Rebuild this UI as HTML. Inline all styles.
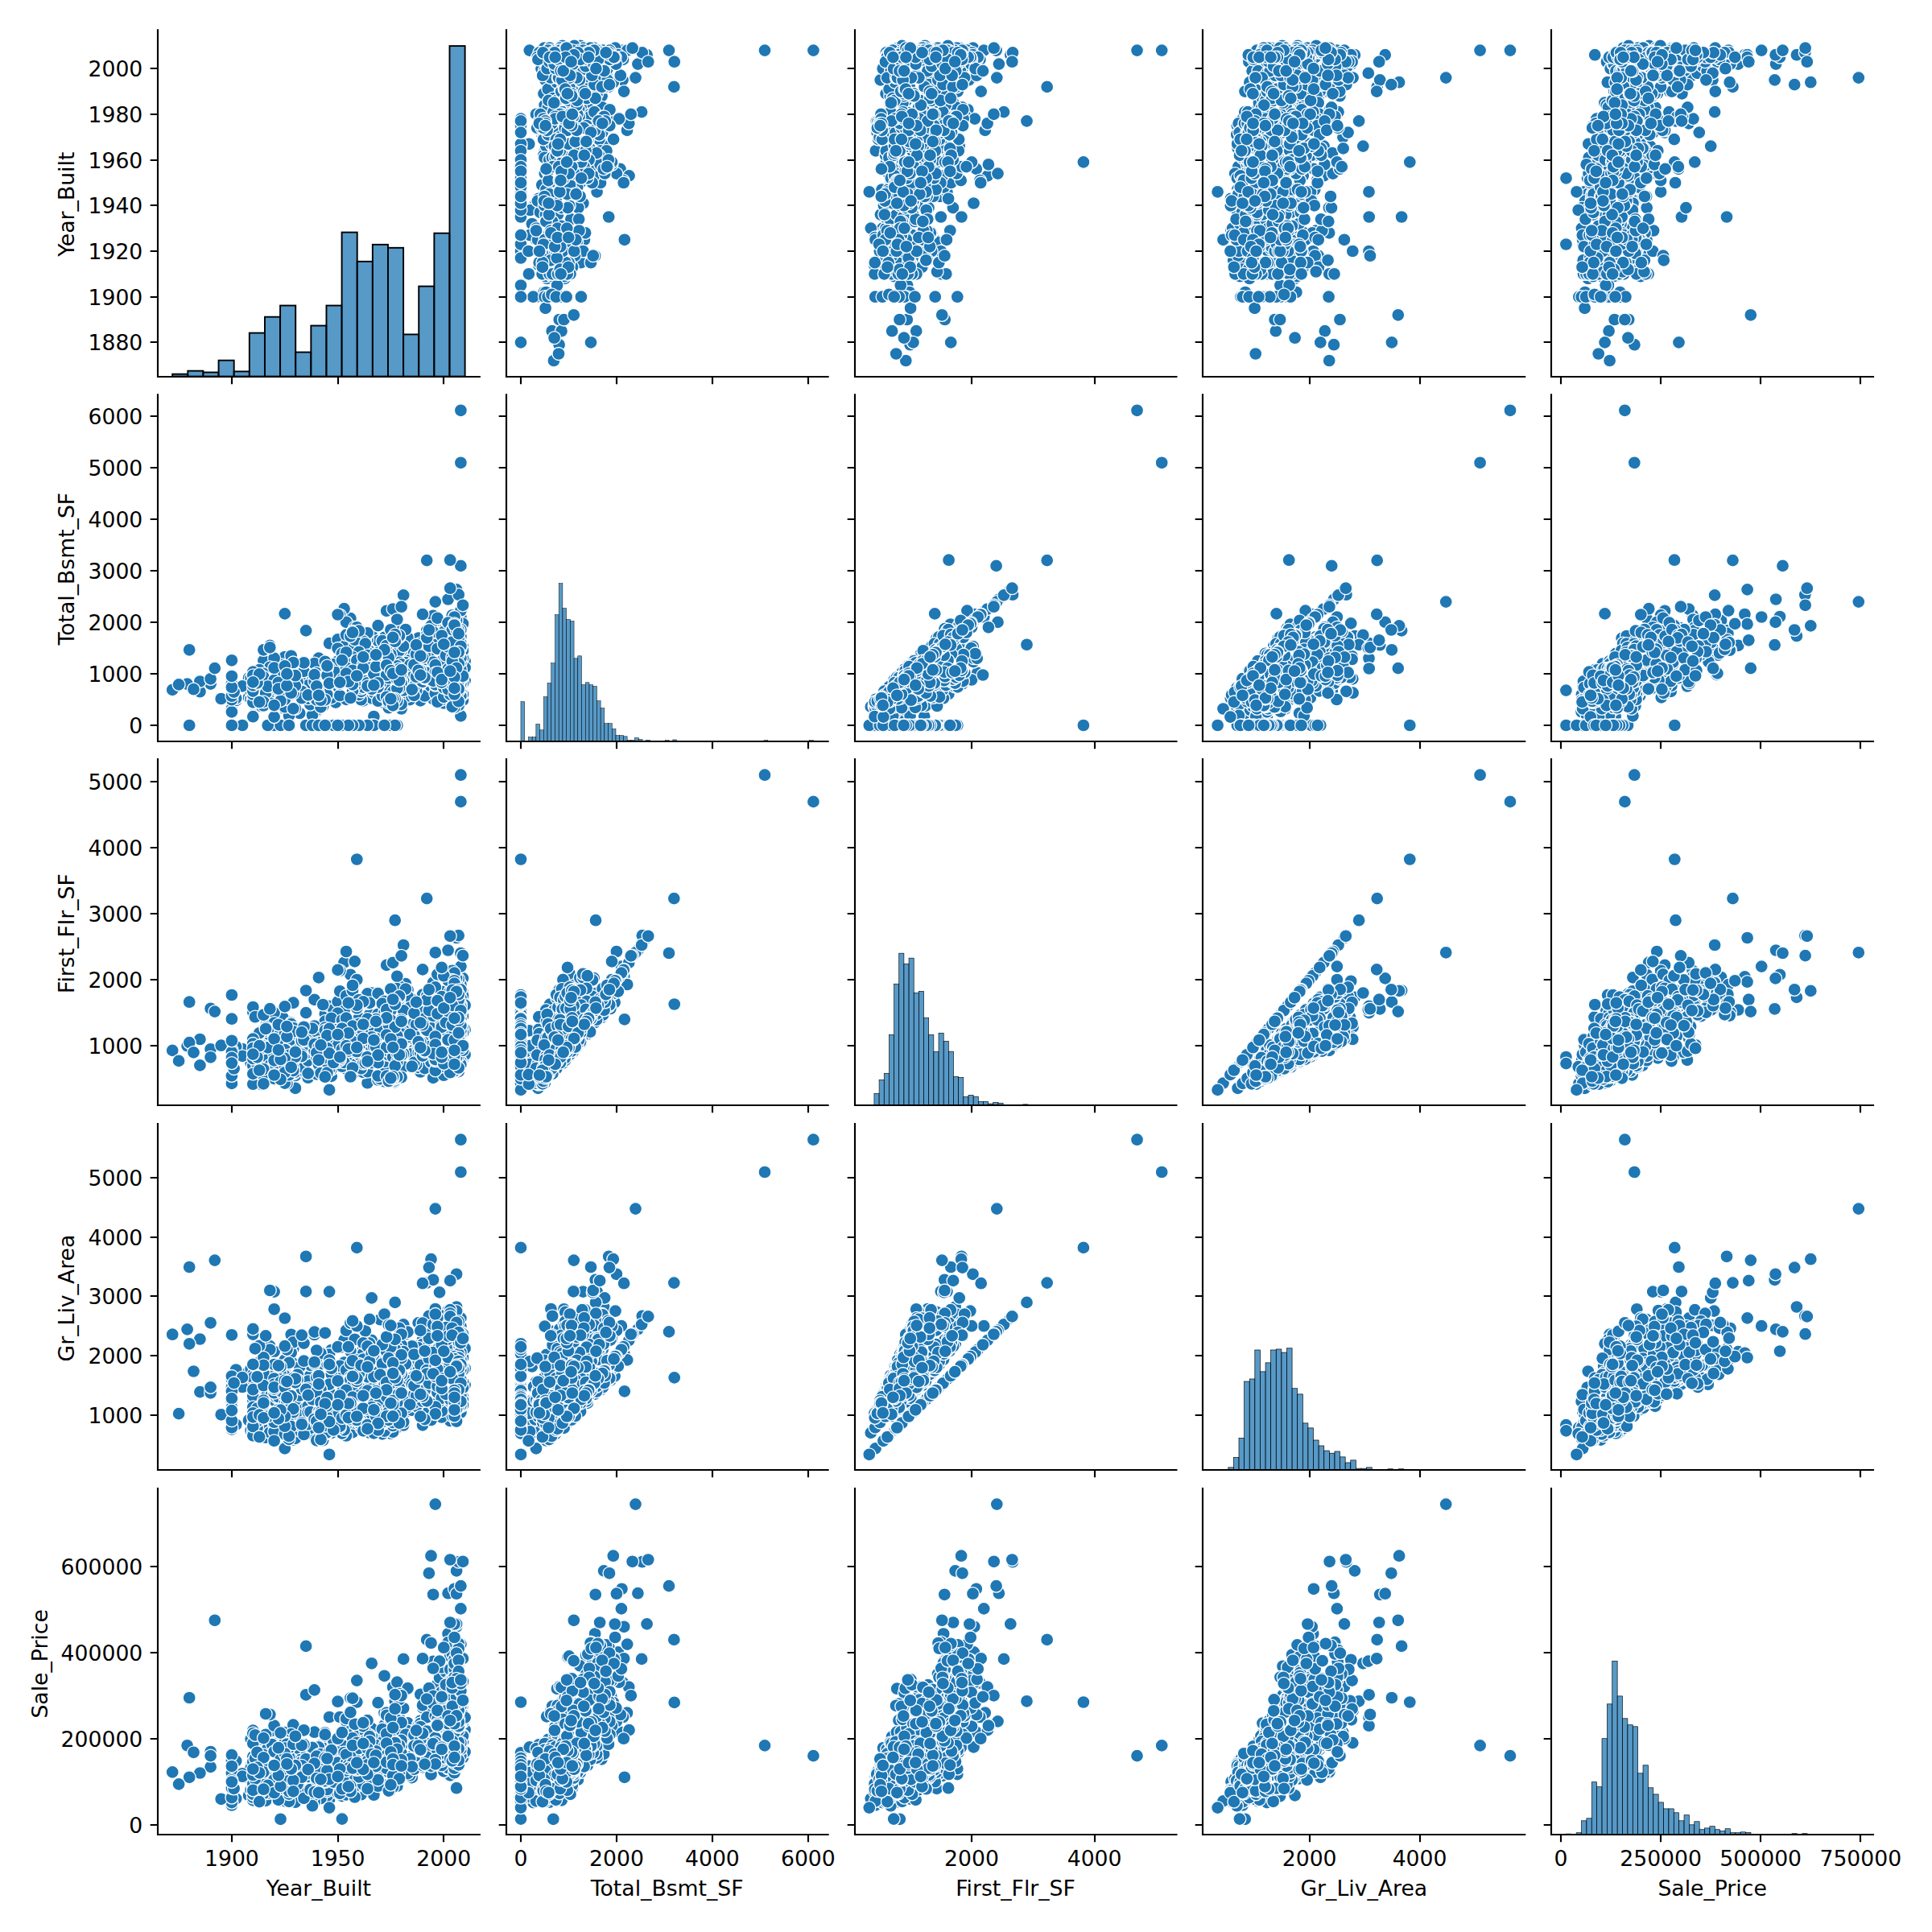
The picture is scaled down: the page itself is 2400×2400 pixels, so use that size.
<!DOCTYPE html><html><head><meta charset="utf-8"><title>pairplot</title><style>html,body{margin:0;padding:0;background:#fff}svg{display:block}text{font-family:"DejaVu Sans","Liberation Sans",sans-serif;font-size:26.667px;fill:#000}</style></head><body>
<svg width="2400" height="2400" viewBox="0 0 2400 2400">
<defs><marker id="m" markerUnits="userSpaceOnUse" markerWidth="20" markerHeight="20" refX="10" refY="10" viewBox="0 0 20 20" overflow="visible"><circle cx="10" cy="10" r="8.0" fill="#1f77b4" stroke="#fff" stroke-width="1.28"/></marker></defs>
<rect width="2400" height="2400" fill="#fff"/>
<g>
<g fill="#1f77b4" fill-opacity="0.75" stroke="#000" stroke-width="1.913"><rect x="214.17" y="464.69" width="19.13" height="2.90"/><rect x="233.30" y="460.71" width="19.13" height="6.88"/><rect x="252.43" y="462.52" width="19.13" height="5.07"/><rect x="271.56" y="447.66" width="19.13" height="19.93"/><rect x="290.69" y="461.43" width="19.13" height="6.16"/><rect x="309.82" y="413.60" width="19.13" height="53.99"/><rect x="328.95" y="393.68" width="19.13" height="73.91"/><rect x="348.08" y="379.55" width="19.13" height="88.04"/><rect x="367.21" y="437.52" width="19.13" height="30.07"/><rect x="386.34" y="404.55" width="19.13" height="63.04"/><rect x="405.46" y="379.55" width="19.13" height="88.04"/><rect x="424.59" y="288.60" width="19.13" height="178.99"/><rect x="443.72" y="324.84" width="19.13" height="142.75"/><rect x="462.85" y="303.82" width="19.13" height="163.77"/><rect x="481.98" y="307.81" width="19.13" height="159.78"/><rect x="501.11" y="415.42" width="19.13" height="52.17"/><rect x="520.24" y="355.63" width="19.13" height="111.96"/><rect x="539.37" y="289.69" width="19.13" height="177.90"/><rect x="558.50" y="57.08" width="19.13" height="410.51"/></g>
<path d="M196 36.26V469.07M194.93 468H596.87" stroke="#000" stroke-width="2.133" fill="none"/>
<path d="M288 468v9.33M420 468v9.33M551 468v9.33M196 425h-9.33M196 369h-9.33M196 312h-9.33M196 255h-9.33M196 199h-9.33M196 142h-9.33M196 85h-9.33" stroke="#000" stroke-width="2.133" fill="none"/>
<text x="177.33" y="435.46" text-anchor="end">1880</text>
<text x="177.33" y="378.77" text-anchor="end">1900</text>
<text x="177.33" y="322.08" text-anchor="end">1920</text>
<text x="177.33" y="265.39" text-anchor="end">1940</text>
<text x="177.33" y="208.71" text-anchor="end">1960</text>
<text x="177.33" y="152.02" text-anchor="end">1980</text>
<text x="177.33" y="95.33" text-anchor="end">2000</text>
<text transform="translate(91.90 253.76) rotate(-90)" text-anchor="middle">Year_Built</text>
</g>
<g>
<path d="M666.3 368.7 720.9 56.9 739.1 317.7 725.9 297.8 660.9 278 792.4 79.6 676.1 215.6 789.5 96.6 679.3 346 737.8 59.7 775.8 297.8 666 141.9 741.6 238.3 675.8 363 669 246.8 677.6 343.2 716.8 300.6 676 59.7 770.5 209.9 751.1 181.6 748.3 164.6 721.7 326.2 837.3 107.9 663 255.3 673.5 167.4 694.6 428.2 781.5 218.4 657.2 178.8 685.7 411.2 720.9 227 647 158.9 687.9 448 779 161.8 746 227 664.6 255.3 771.9 62.6 774 224.1 686.3 343.2 682.8 59.7 764.3 59.7 756.2 269.5 694.7 397 724.3 312 673.3 229.8 803.6 68.2 697.5 411.2 797.8 65.4 713.9 317.7 744.4 173.1 647 246.8 662.4 368.7 734 425.4 676.8 187.3 730.5 133.4 797.1 139.1 657.8 62.6 724.7 59.7 727.1 289.3 711 331.8 677.4 99.4 774 73.9 647 312 773.5 99.4 647 425.4 698.6 56.9 695.2 368.7 765.9 215.6 695.5 59.7 749.3 62.6 675.5 116.4 746.2 187.3 676.6 130.6 760.1 144.8 760 204.3 675.3 192.9 676.8 215.6 779.2 62.6 647 181.6 647 269.5 647 147.6 753.5 90.9 692.7 62.6 721.9 368.7 647 320.5 761.8 102.2 694 439.5 674.3 164.6 732.6 184.4 678.3 181.6 686.6 181.6 647 303.5 676.5 195.8 747.6 119.2 658.5 261 671 263.8 666.2 283.6 733.2 59.7 672.5 85.2 701.5 346 667.9 249.6 770.8 93.7 706.6 326.2 739.9 96.6 701.1 343.2 781.2 153.3 677.9 266.6 769.1 147.6 692.1 354.5 741.6 116.4 753.5 187.3 736.4 62.6 678.2 363 721.6 133.4 647 261 754.8 85.2 682.2 289.3 737.8 218.4 748.1 133.4 735.7 227 669.1 329 684.2 62.6 719.3 136.3 724.3 252.5 684.8 178.8 734 326.2 666 297.8 756.2 107.9 831 62.6 757.5 136.3 757.3 156.1 760 201.4 785.6 59.7 672.5 340.3 736.8 317.7 744.1 192.9 1010.4 62.6 700.5 397 713.4 56.9 730.7 173.1 718.4 258.1 676.5 368.7 658.1 292.1 647 178.8 751.3 215.6 681 133.4 680.8 110.7 717.2 232.6 755.2 207.1 805.2 76.7 676.3 255.3 713.4 238.3 699.2 139.1 687.1 122.1 754.6 99.4 730.6 187.3 738.9 204.3 745.5 204.3 669.8 150.4 681.4 124.9 673.6 340.3 684 368.7 762.1 173.1 691.7 124.9 755.9 198.6 741.1 190.1 767.9 68.2 669.9 65.4 682.2 198.6 678.7 317.7 775.1 113.6 729.8 221.3 710.9 130.6 757.3 62.6 693 266.6 686 195.8 691.8 102.2 686.4 312 682.5 340.3 774.7 227 667.5 71.1 647 195.8 709.3 272.3 720.6 244 647 156.1 733.1 141.9 647 252.5 771.9 71.1 696.9 280.8 756.7 65.4 733.1 144.8 749.7 209.9 738.3 139.1 748.9 144.8 675.1 173.1 687.3 139.1 698.1 141.9 647 150.4 719.1 272.3 697.6 258.1 688.6 419.7 647 190.1 712.8 391.3 719.6 144.8 691.7 227 729 122.1 750.4 144.8 677.6 382.8 783.8 141.9 647 354.5 693.9 238.3 738.3 156.1 719.4 286.5 684 96.6 765.3 79.6 693.2 96.6 723 107.9 680.8 62.6 656.9 340.3 671.3 141.9 676.5 88.1 754.1 207.1 689.2 312 689.6 195.8 690.8 249.6 717.2 141.9 674.2 93.7 707.2 255.3 950 62.6 725.2 105.1 647 204.3 741.8 62.6 751.4 107.9 695.6 62.6 686.5 65.4 678.5 235.5 669.7 326.2 647 368.7 679.6 85.2 708.6 303.5 697.2 113.6 680.3 212.8 668.4 73.9 680.6 368.7 705.3 258.1 715.4 147.6 668.1 297.8 682.3 241.1 706.1 124.9 695.7 141.9 702.8 326.2 731.6 198.6 647 218.4 699 312 728.8 110.7 681 167.4 728.7 156.1 686.2 275.1 693.3 164.6 725.6 207.1 703 122.1 702.8 59.7 699.8 105.1 686.3 340.3 690.9 192.9 684.2 323.3 692.4 204.3 647 238.3 837.7 76.7 691.1 312 721.2 88.1 719.8 99.4 738.3 105.1 686.7 207.1 720 62.6 708.5 340.3 681.3 224.1 667.2 158.9 701.1 110.7 691.8 320.5 672.8 158.9 708 229.8 731.2 215.6 757.5 73.9 750.6 88.1 678.3 275.1 682.6 76.7 696 190.1 735.4 93.7 647 164.6 713.2 241.1 730.3 161.8 695 224.1 764.1 71.1 704.5 241.1 713.2 312 716.6 130.6 712.1 144.8 647 292.1 693 340.3 715.6 241.1 695.1 170.3 725 158.9 707.5 107.9 689.8 144.8 714.2 158.9 744.4 167.4 701.6 158.9 722.1 201.4 647 232.6 724.4 62.6 666.1 286.5 704.7 340.3 751.7 150.4 685.6 153.3 695.8 334.7 688.2 127.7 716.7 192.9 684 286.5 747.8 107.9 697.8 190.1 727.5 82.4 757 68.2 692.6 283.6 700.1 221.3 681.9 266.6 674.8 147.6 683.6 252.5 706.1 331.8 656.6 312 690.9 173.1 698.1 65.4 677.4 303.5 696.7 340.3 689.3 147.6 710.1 116.4 688.9 65.4 728.9 175.9 739 161.8 698.5 201.4 734.1 164.6 715.3 297.8 762.6 71.1 700 147.6 713.4 215.6 743.7 150.4 716.8 124.9 647 244 692.1 255.3 694 96.6 712.2 93.7 676.4 244 726.2 175.9 677 297.8 695.3 238.3 713.2 184.4 675.2 303.5 711.8 79.6 708.1 141.9 684.4 289.3 725.4 113.6 685.4 365.8 690.3 85.2 725.2 73.9 694.1 207.1 748 65.4 688.5 79.6 690.9 368.7 716.5 96.6 729 65.4 707.5 96.6 679.6 161.8 695.9 187.3 674.6 65.4 711 62.6 706 178.8 698.3 99.4 727.6 187.3 677.4 150.4 647 187.3 710.2 207.1 703.6 368.7 704.3 283.6 696.3 306.3 710.2 119.2 748.3 153.3 737.5 79.6 693.7 73.9 714.7 175.9 674 326.2 706.7 215.6 689.1 306.3 692.7 295 674.8 158.9 722.1 221.3 676 249.6 647 198.6 702.2 110.7 682.8 71.1 743 73.9 738.2 62.6 731.5 65.4 705 161.8 716.4 161.8 706.2 295 752.7 65.4 697.4 212.8 673.9 331.8 710 156.1 704.9 116.4 718 65.4 695.9 173.1 696.6 88.1 721.1 73.9 688.8 181.6 692.4 187.3 731.1 71.1 677.5 153.3 669.9 153.3 703.7 59.7 698.7 144.8 677.6 156.1 647 207.1 678.5 209.9 647 221.3 708 93.7 713 68.2 702.6 71.1 739.6 122.1 706.7 153.3 727 116.4 728.3 175.9 670.1 312 647 212.8 713.1 192.9 725.8 192.9 740.4 85.2 696.5 224.1 647 227 704.1 201.4 699.7 88.1 709.5 76.7 689.7 71.1 757 105.1 693.2 178.8 681.5 252.5 710.9 141.9" fill="none" stroke="none" marker-start="url(#m)" marker-mid="url(#m)" marker-end="url(#m)"/>
<path d="M629 36.26V469.07M627.93 468H1029.67" stroke="#000" stroke-width="2.133" fill="none"/>
<path d="M647 468v9.33M766 468v9.33M885 468v9.33M1004 468v9.33M629 425h-9.33M629 369h-9.33M629 312h-9.33M629 255h-9.33M629 199h-9.33M629 142h-9.33M629 85h-9.33" stroke="#000" stroke-width="2.133" fill="none"/>
</g>
<g>
<path d="M1093 368.7 1149.1 56.9 1088.5 164.6 1240.9 79.6 1238.3 96.6 1208.8 59.7 1167.6 244 1161.2 297.8 1202.3 136.3 1163.7 300.6 1176.4 238.3 1118.2 363 1183.9 258.1 1197.8 82.4 1096.4 283.6 1345.9 201.4 1212.8 209.9 1191.7 181.6 1150.1 326.2 1172.6 232.6 1300.7 107.9 1169.5 340.3 1130.6 428.2 1180.3 286.5 1226.9 218.4 1108.1 411.2 1126.8 397 1125.3 448 1223.7 161.8 1181.5 227 1222.2 62.6 1154.4 323.3 1175.3 340.3 1217.3 224.1 1110.7 343.2 1081.8 283.6 1087.2 368.7 1115.5 59.7 1191.9 59.7 1194.4 269.5 1117.5 397 1195.1 133.4 1149.3 59.7 1168.8 312 1255.3 68.2 1138.2 411.2 1258 65.4 1178.1 246.8 1096.1 368.7 1181.2 425.4 1100.9 65.4 1157.2 312 1275.5 150.4 1087.8 187.3 1247 139.1 1204.9 99.4 1098.6 286.5 1188.7 59.7 1157.1 289.3 1145.3 331.8 1095.6 235.5 1101.1 201.4 1093.7 99.4 1217.4 73.9 1203.6 99.4 1134.4 425.4 1120.6 56.9 1239.5 215.6 1145.7 59.7 1185.9 62.6 1102.3 68.2 1155.8 289.3 1100.6 116.4 1100.1 192.9 1100.5 283.6 1126.5 139.1 1125.8 124.9 1105.7 130.6 1199.6 144.8 1227.9 204.3 1133.5 320.5 1201.4 62.6 1168.8 269.5 1161.7 368.7 1099 269.5 1092.8 312 1113.1 62.6 1189.3 368.7 1101.6 71.1 1207.5 65.4 1113.2 439.5 1089.6 164.6 1121.5 127.7 1172 181.6 1132.6 119.2 1149.5 312 1193.7 224.1 1106.6 224.1 1164.8 130.6 1147.1 255.3 1152 323.3 1122.8 119.2 1164.9 59.7 1106.7 130.6 1103.9 215.6 1096.7 85.2 1189.7 113.6 1161.3 62.6 1213.1 93.7 1130.7 326.2 1091.3 173.1 1226.6 153.3 1164.1 337.5 1093.9 266.6 1092.5 170.3 1210.9 147.6 1127.1 354.5 1190.8 187.3 1168.7 62.6 1198.7 65.4 1184.2 127.7 1129.8 363 1138.5 340.3 1193.1 85.2 1171 218.4 1187.9 133.4 1168.4 227 1142.6 62.6 1086.1 329 1159.1 244 1109.2 62.6 1147.3 136.3 1087.1 295 1209.5 252.5 1166.3 326.2 1151.2 286.5 1208.5 68.2 1087.5 297.8 1103.5 235.5 1100.8 187.3 1196.7 147.6 1106.9 221.3 1237.6 62.6 1196.2 136.3 1196.1 156.1 1106.6 88.1 1207 201.4 1234.7 59.7 1105.4 272.3 1134.2 266.6 1173.4 317.7 1178.6 192.9 1412.5 62.6 1112 209.9 1173.7 397 1133.2 292.1 1177.5 56.9 1118.9 65.4 1118.1 326.2 1153.5 258.1 1097.9 255.3 1126 368.7 1079.8 238.3 1111.1 181.6 1125.2 295 1188.4 215.6 1105.8 119.2 1118 215.6 1141 133.4 1104.6 110.7 1166.9 184.4 1194.5 207.1 1257.3 76.7 1103.2 252.5 1121.6 139.1 1108.9 122.1 1150.7 261 1179.6 187.3 1167.2 173.1 1088.9 150.4 1213.7 73.9 1162.6 235.5 1191.1 173.1 1111.4 124.9 1103.3 238.3 1134.6 252.5 1150.4 110.7 1108.1 317.7 1218.7 113.6 1160.2 221.3 1174.8 130.6 1178 62.6 1113.5 266.6 1175.9 297.8 1104.4 195.8 1111.8 102.2 1107.7 340.3 1125.9 280.8 1116.6 68.2 1218.2 227 1120.5 198.6 1180.1 184.4 1193.6 76.7 1151.5 244 1109.1 252.5 1152.3 272.3 1148.5 244 1136.2 275.1 1146.9 141.9 1214.8 71.1 1122.1 269.5 1165.1 144.8 1179.8 209.9 1171.3 139.1 1117.9 255.3 1184.9 144.8 1090.6 150.4 1095.9 173.1 1126.1 297.8 1106.3 139.1 1206.6 73.9 1119.9 141.9 1130.2 326.2 1092.7 150.4 1137.5 272.3 1125.1 258.1 1123 419.7 1096.5 326.2 1183.8 198.6 1187.6 82.4 1170.2 391.3 1111.9 227 1187.1 144.8 1149.2 229.8 1131.1 382.8 1169.5 113.6 1234.5 141.9 1109.6 334.7 1118.8 354.5 1171.4 156.1 1147.2 286.5 1102.1 96.6 1206.2 79.6 1142.9 124.9 1137.6 306.3 1113.4 96.6 1108.3 241.1 1086.5 340.3 1094.4 141.9 1122.5 116.4 1200.5 207.1 1151.1 76.7 1154.7 93.7 1109.2 312 1134.4 249.6 1144.5 141.9 1113.4 93.7 1443.2 62.6 1108 164.6 1119.8 292.1 1154.3 105.1 1123.5 204.3 1176.1 62.6 1188.2 107.9 1188.1 144.8 1144.8 62.6 1156 62.6 1164 201.4 1211.5 85.2 1116.9 244 1103.7 326.2 1123.4 368.7 1120.8 275.1 1198.2 96.6 1147.1 178.8 1119.1 113.6 1124.6 212.8 1116.9 368.7 1132.5 258.1 1142.2 147.6 1099.2 249.6 1099.5 241.1 1157.2 124.9 1160.7 141.9 1128.5 326.2 1163 198.6 1111.3 218.4 1121.3 312 1162.3 110.7 1182 164.6 1160.4 156.1 1146.4 275.1 1089.2 158.9 1155.3 207.1 1155.2 122.1 1125.5 59.7 1129.8 105.1 1098.4 340.3 1110.3 192.9 1137.8 96.6 1121 303.5 1150.3 323.3 1168.9 164.6 1112.4 164.6 1150.4 238.3 1148.8 170.3 1113.7 312 1152.3 88.1 1165.3 99.4 1171.5 105.1 1105.2 207.1 1181.6 192.9 1148.1 62.6 1140.2 65.4 1133.1 340.3 1114.1 224.1 1120 158.9 1174 201.4 1123.8 110.7 1128.6 320.5 1132.9 229.8 1162.6 215.6 1195.9 73.9 1187.3 88.1 1118.6 275.1 1100 76.7 1111.1 190.1 1167.7 93.7 1138.9 241.1 1113 71.1 1115.9 224.1 1205.7 71.1 1128 241.1 1138.7 312 1144 130.6 1133.9 144.8 1097.1 292.1 1115.9 340.3 1142.5 241.1 1154.8 158.9 1107.2 297.8 1148.6 107.9 1179.4 167.4 1139.2 175.9 1124.3 158.9 1177.6 201.4 1152.4 150.4 1111.3 232.6 1153.9 62.6 1104.9 286.5 1128 340.3 1181.1 150.4 1117.8 153.3 1117.5 334.7 1106.9 127.7 1144 192.9 1101.9 286.5 1183.7 107.9 1133.2 187.3 1157.4 82.4 1118 283.6 1126.7 221.3 1098.8 266.6 1094.7 147.6 1116.1 297.8 1129.1 252.5 1126.9 181.6 1130.6 331.8 1097.4 312 1111.2 173.1 1115 303.5 1120.9 340.3 1145.6 198.6 1147.7 71.1 1111.9 147.6 1134.8 116.4 1137.7 65.4 1180.2 212.8 1172.4 161.8 1124.1 201.4 1162.1 164.6 1146.9 297.8 1202.7 71.1 1221 88.1 1121.9 147.6 1130.8 167.4 1178.6 150.4 1168.3 124.9 1122.7 255.3 1114.9 96.6 1138 93.7 1094.8 244 1161.4 175.9 1099.8 297.8 1122 238.3 1131.9 175.9 1136 184.4 1092 303.5 1137.6 79.6 1132.8 141.9 1105.9 289.3 1154.9 113.6 1104.3 365.8 1110.1 85.2 1154.7 73.9 1139.9 207.1 1184 65.4 1122.3 79.6 1110.7 368.7 1166.9 73.9 1141.4 96.6 1159.9 65.4 1132.1 96.6 1095.7 161.8 1117.7 187.3 1105.3 65.4 1195.4 62.6 1129.9 178.8 1121.7 99.4 1157.9 187.3 1162.9 161.8 1107.5 150.4 1161.8 187.3 1135.5 207.1 1136.5 368.7 1123.4 283.6 1155.1 306.3 1135.4 119.2 1184.2 153.3 1170.7 79.6 1117.5 73.9 1129.3 175.9 1148 209.9 1086.8 326.2 1130.6 215.6 1125.9 306.3 1141.3 295 1089.9 158.9 1131.6 249.6 1155.7 198.6 1125.1 110.7 1119.9 71.1 1177.4 73.9 1171.4 62.6 1163.1 65.4 1129 161.8 1137.3 71.1 1143.3 161.8 1153 295 1189.9 65.4 1127.1 212.8 1102.4 331.8 1138.7 156.1 1128.7 116.4 1145.5 65.4 1194.7 68.2 1119.9 173.1 1117.4 88.1 1195 73.9 1140.7 181.6 1112.9 187.3 1162.5 71.1 1093.3 153.3 1127.8 62.6 1095.1 153.3 1130.8 59.7 1120.3 144.8 1093.4 156.1 1153.5 207.1 1095 209.9 1150.6 221.3 1182.7 93.7 1193.3 68.2 1125.4 71.1 1181 122.1 1128.9 153.3 1157.3 116.4 1158.8 175.9 1096.8 312 1145.4 212.8 1139.1 192.9 1155.4 192.9 1174.2 85.2 1117.8 224.1 1143.7 227 1128.8 201.4 1123.1 88.1 1186.2 76.7 1109.4 71.1 1195.5 105.1 1137.3 178.8 1114.3 252.5 1158.8 141.9" fill="none" stroke="none" marker-start="url(#m)" marker-mid="url(#m)" marker-end="url(#m)"/>
<path d="M1062 36.26V469.07M1060.93 468H1462.47" stroke="#000" stroke-width="2.133" fill="none"/>
<path d="M1207 468v9.33M1360 468v9.33M1062 425h-9.33M1062 369h-9.33M1062 312h-9.33M1062 255h-9.33M1062 199h-9.33M1062 142h-9.33M1062 85h-9.33" stroke="#000" stroke-width="2.133" fill="none"/>
</g>
<g>
<path d="M1551.4 76.7 1612.1 56.9 1603.8 263.8 1597.2 266.6 1637.7 317.7 1796.2 96.6 1608.6 346 1629 244 1668.4 170.3 1700.5 238.3 1547 363 1615.7 263.8 1635.8 192.9 1611.1 343.2 1650.9 258.1 1680.6 96.6 1682.9 68.2 1579.1 59.7 1751.3 201.4 1674.6 164.6 1631.9 209.9 1693.3 181.6 1710.7 107.9 1563.1 133.4 1651.2 340.3 1621.7 297.8 1631.3 312 1657 428.2 1575.3 59.7 1634.8 286.5 1644.5 218.4 1664.5 116.4 1536.8 156.1 1543.7 147.6 1672.4 105.1 1584.8 411.2 1714.2 99.4 1583.6 397 1662.1 158.9 1651.2 448 1529 246.8 1664.4 119.2 1561.2 62.6 1586.3 326.2 1541.6 368.7 1563.9 127.7 1660.9 62.6 1636 224.1 1540.3 343.2 1543.7 368.7 1569.7 59.7 1613.1 59.7 1741.1 269.5 1633.2 235.5 1651.6 136.3 1537.4 235.5 1590.1 397 1616 133.4 1700.5 312 1537.7 184.4 1645.8 411.2 1628.1 238.3 1616.9 249.6 1633.6 317.7 1600.8 246.8 1573.8 368.7 1678.8 79.6 1728.9 425.4 1621 175.9 1611.1 122.1 1688.1 150.4 1654.5 110.7 1568.4 62.6 1662.5 139.1 1529.5 286.5 1610.2 59.7 1651.1 289.3 1619.1 331.8 1680.3 312 1640.3 425.4 1592.8 56.9 1599.5 368.7 1655.8 215.6 1669.9 297.8 1532.2 323.3 1624.4 59.7 1645.4 113.6 1607.8 62.6 1603.9 289.3 1637.9 119.2 1531.1 283.6 1619.8 124.9 1619.8 289.3 1540.1 278 1673.8 82.4 1617.4 241.1 1645.5 204.3 1639.7 113.6 1700.7 269.5 1638 331.8 1629.4 192.9 1610.1 119.2 1670 62.6 1650.6 368.7 1738.1 102.2 1623.7 255.3 1546.3 139.1 1559.7 439.5 1613.7 278 1618.7 218.4 1604.8 340.3 1596.4 59.7 1644.5 181.6 1620.1 119.2 1635.6 119.2 1575.1 312 1578.7 309.1 1538.2 207.1 1536.3 167.4 1543 195.8 1614.8 224.1 1664.4 209.9 1567 278 1592.6 278 1575.2 283.6 1537.2 178.8 1534.2 215.6 1542.7 326.2 1546.3 278 1620.4 164.6 1552.1 346 1580.6 278 1610.7 62.6 1546.5 113.6 1588.2 337.5 1568.5 266.6 1555.6 88.1 1550.8 68.2 1537 241.1 1678.2 68.2 1699.8 90.9 1579 306.3 1590.4 354.5 1559 280.8 1617.2 312 1575.4 340.3 1583.7 312 1621.4 201.4 1612 297.8 1637.6 127.7 1610.4 363 1536.5 261 1657.5 340.3 1538.6 153.3 1598.5 340.3 1679.6 76.7 1594.4 218.4 1603 368.7 1654 133.4 1569 62.6 1664.2 113.6 1549.1 204.3 1630.3 289.3 1624.4 326.2 1601.2 340.3 1642.3 286.5 1543.2 334.7 1720.7 68.2 1519.5 297.8 1557.1 73.9 1639 141.9 1536.9 221.3 1675.4 76.7 1617 136.3 1655.1 190.1 1543 263.8 1603.6 297.8 1602.7 320.5 1622.5 192.9 1660.9 201.4 1617.4 258.1 1542.4 161.8 1651.6 59.7 1554.3 326.2 1535.6 272.3 1561.4 266.6 1580.2 340.3 1702 317.7 1876 62.6 1550.9 283.6 1664.5 397 1635 56.9 1570 326.2 1654 258.1 1713.2 76.7 1528.8 255.3 1605.2 235.5 1590.4 368.7 1512.6 238.3 1547.5 266.6 1561.6 263.8 1633.6 295 1610 215.6 1668.6 184.4 1546.9 215.6 1567.5 133.4 1547.9 255.3 1629.3 161.8 1590.8 184.4 1562.9 88.1 1606.3 303.5 1666.8 207.1 1671.8 76.7 1601.7 255.3 1550.1 139.1 1607.3 309.1 1568.3 122.1 1642.1 105.1 1539.6 164.6 1550.9 334.7 1576.2 261 1602.2 187.3 1534.4 340.3 1618.4 292.1 1581.9 235.5 1572.1 124.9 1567.3 340.3 1632.7 73.9 1612 235.5 1612.4 173.1 1603 124.9 1600.2 312 1603.5 198.6 1593.6 238.3 1548.8 164.6 1561.8 252.5 1573.6 76.7 1617 198.6 1629.3 249.6 1538 317.7 1622 62.6 1710.2 113.6 1590.4 337.5 1597.8 130.6 1574.1 90.9 1634.1 93.7 1600.7 62.6 1589 266.6 1637.7 297.8 1587.9 195.8 1593.5 312 1615.7 116.4 1631.5 161.8 1587.5 340.3 1604.9 280.8 1636.7 227 1549.1 198.6 1640.9 184.4 1603.5 252.5 1641 272.3 1587.8 249.6 1652.9 244 1591.1 141.9 1636.1 147.6 1588.3 275.1 1605.3 141.9 1558.2 252.5 1633.7 71.1 1598.6 280.8 1545.9 153.3 1587.7 269.5 1589.1 144.8 1602.3 209.9 1631.3 139.1 1584.7 255.3 1606.9 144.8 1616.5 312 1580.2 139.1 1563.6 105.1 1623.8 141.9 1621.4 238.3 1592.1 326.2 1620.5 272.3 1546.6 312 1666 65.4 1571.5 297.8 1553.3 258.1 1608.6 419.7 1572.7 295 1575 326.2 1617.1 167.4 1639.5 65.4 1605.9 198.6 1736.8 391.3 1550 164.6 1597.6 227 1658.4 144.8 1552.4 102.2 1558.6 382.8 1651.4 141.9 1617.4 209.9 1572.8 249.6 1565.8 334.7 1601.5 354.5 1594.7 156.1 1600.6 286.5 1570.3 99.4 1628.1 124.9 1564.5 306.3 1577.1 107.9 1538.2 241.1 1551 164.6 1626.8 73.9 1662.8 99.4 1620.8 207.1 1559.2 96.6 1670.2 93.7 1538.9 312 1615.6 195.8 1561.6 249.6 1570.6 141.9 1584.2 93.7 1632.8 255.3 1599.1 209.9 1838.6 62.6 1623.2 105.1 1530.1 292.1 1634.5 150.4 1551.8 204.3 1598.9 62.6 1609.8 107.9 1634.8 337.5 1609.7 144.8 1630.7 62.6 1659 82.4 1580.9 62.6 1581.2 153.3 1545.8 244 1568.3 65.4 1572.1 326.2 1551.7 368.7 1549.3 275.1 1674.6 96.6 1573 178.8 1596.2 303.5 1574 113.6 1552.8 212.8 1566.9 368.7 1619.3 258.1 1530 249.6 1585.4 368.7 1578.4 241.1 1582.1 124.9 1627.6 141.9 1565 68.2 1615.7 326.2 1587.2 198.6 1540.9 218.4 1628.6 65.4 1549.9 312 1536.1 297.8 1614.7 93.7 1586.6 110.7 1660.3 93.7 1604.3 164.6 1636.4 156.1 1650.3 275.1 1602.3 178.8 1580.2 122.1 1589.6 59.7 1646.6 105.1 1540 192.9 1614.8 96.6 1585.9 303.5 1649.6 323.3 1592.5 164.6 1602.9 164.6 1549.5 153.3 1544.8 289.3 1616.5 238.3 1574.5 170.3 1571.6 158.9 1588.1 312 1577.6 88.1 1630.3 99.4 1594.9 105.1 1556.9 71.1 1592 207.1 1641.2 192.9 1573.9 62.6 1559.3 184.4 1560.4 340.3 1533.8 292.1 1567.7 96.6 1543.4 224.1 1623.7 158.9 1597.1 201.4 1632 110.7 1556.4 320.5 1560.2 229.8 1613.2 79.6 1586.9 215.6 1609 88.1 1547.4 275.1 1576.1 76.7 1559.3 181.6 1581.8 190.1 1591.4 93.7 1565.6 241.1 1545 224.1 1625.6 71.1 1555.8 241.1 1590.2 312 1570.2 130.6 1564.6 292.1 1545 340.3 1568.8 241.1 1604.7 170.3 1590.3 297.8 1574.3 107.9 1566.8 158.9 1639.4 167.4 1565.9 175.9 1552.6 158.9 1600.3 201.4 1645.5 150.4 1540.8 232.6 1651.2 62.6 1561.5 286.5 1555.8 340.3 1603.5 150.4 1618.1 153.3 1602.3 334.7 1593.8 127.7 1617.9 184.4 1565.2 286.5 1605.8 107.9 1637.5 187.3 1564.7 190.1 1582.2 82.4 1664.9 68.2 1595.7 283.6 1554.7 221.3 1581 266.6 1572.4 147.6 1545.2 297.8 1593.9 252.5 1629.2 181.6 1558.2 331.8 1528.4 312 1540.7 173.1 1624.3 65.4 1613.9 303.5 1616.6 340.3 1573.5 71.1 1598.2 147.6 1655.6 116.4 1636.8 212.8 1561 173.1 1595.7 161.8 1552.3 201.4 1586.4 164.6 1598.1 297.8 1622.8 71.1 1639.3 88.1 1581.1 147.6 1558.3 167.4 1601.2 150.4 1592 124.9 1551 255.3 1602.6 96.6 1611.3 93.7 1571.1 244 1585.8 175.9 1556.5 297.8 1550.5 238.3 1642.7 65.4 1559.3 175.9 1619.9 184.4 1563.8 303.5 1649.4 79.6 1560.1 141.9 1580 289.3 1580 113.6 1595.1 365.8 1600.3 85.2 1658.5 73.9 1566.5 207.1 1606.1 65.4 1624.7 79.6 1577.4 368.7 1621.3 96.6 1620.2 65.4 1559.5 96.6 1579.1 161.8 1546.6 187.3 1616.3 62.6 1632.3 178.8 1605.8 99.4 1613.7 187.3 1587.2 161.8 1559 150.4 1586.2 187.3 1602.6 207.1 1563.5 368.7 1600 283.6 1615.2 306.3 1600.9 119.2 1606.3 153.3 1595.6 73.9 1557 175.9 1554.8 326.2 1558.1 215.6 1553.9 306.3 1596.8 295 1559 249.6 1580.6 198.6 1553.2 110.7 1561.7 158.9 1600.2 73.9 1594.8 62.6 1587.3 65.4 1556.8 161.8 1564.2 71.1 1648.2 161.8 1578.2 295 1653.5 65.4 1555 212.8 1532.9 331.8 1661.4 156.1 1556.4 116.4 1612.8 65.4 1615.6 68.2 1548.6 173.1 1588.7 88.1 1650.2 73.9 1567.2 181.6 1542.3 187.3 1586.8 71.1 1574.7 153.3 1641.5 62.6 1570 153.3 1646.5 59.7 1548.9 144.8 1571.9 156.1 1578.7 207.1 1572 209.9 1576.1 221.3 1649.6 93.7 1614.4 68.2 1583.5 71.1 1603.4 122.1 1556.6 153.3 1582.1 116.4 1583.4 175.9 1560.5 312 1571.4 212.8 1565.8 192.9 1580.4 192.9 1631.7 85.2 1580.5 224.1 1569.9 227 1556.5 201.4 1597.7 88.1 1608.1 76.7 1578.6 71.1 1728.3 105.1 1564.2 178.8 1543.5 252.5 1583.5 141.9" fill="none" stroke="none" marker-start="url(#m)" marker-mid="url(#m)" marker-end="url(#m)"/>
<path d="M1494 36.26V469.07M1492.93 468H1895.27" stroke="#000" stroke-width="2.133" fill="none"/>
<path d="M1627 468v9.33M1764 468v9.33M1494 425h-9.33M1494 369h-9.33M1494 312h-9.33M1494 255h-9.33M1494 199h-9.33M1494 142h-9.33M1494 85h-9.33" stroke="#000" stroke-width="2.133" fill="none"/>
</g>
<g>
<path d="M1996 76.7 2048.6 56.9 2028.6 263.8 2085.1 209.9 2043.5 317.7 2045.4 297.8 1968.3 278 2159.3 79.6 2206.1 79.6 1968 238.3 2308.8 96.6 2058.8 116.4 1972.8 346 2104.3 59.7 2063.1 238.3 1968.9 363 1966.4 303.5 2068 164.6 2149.5 79.6 2007.1 343.2 2231.9 68.2 2121.8 65.4 2080.3 201.4 2110.8 164.6 2125.2 181.6 2053.8 164.6 2152.5 107.9 2101.4 93.7 2047.6 340.3 2030.4 428.2 2034.7 59.7 2054.1 286.5 2167.4 68.2 2089.4 116.4 1978.8 156.1 1999.1 411.2 2204.6 99.4 2023.2 397 1999.6 448 2068.1 161.8 1945.4 303.5 1979.1 343.2 2081.1 227 1993.4 127.7 2188.2 62.6 2042.9 323.3 2017.4 340.3 2063.1 224.1 2004.5 343.2 1972.3 241.1 1969.2 249.6 1945.5 221.3 1961.4 368.7 2016.5 59.7 2130.7 59.7 2145 269.5 2005.6 397 2057.2 59.7 2053.2 312 2170.6 68.2 1998.6 411.2 2242.3 65.4 1964.6 368.7 2037.5 329 2085.5 425.4 2081.5 150.4 2108.5 90.9 2056.3 133.4 2056.1 62.6 2130.1 139.1 2117.6 65.4 2077.3 59.7 2043.5 289.3 2030.6 249.6 2033.3 312 2127.4 99.4 1967 340.3 1993.6 425.4 2023.1 56.9 1977.3 246.8 2058.2 215.6 2000.6 85.2 2038.3 297.8 1966.7 323.3 2042.1 59.7 2047.3 133.4 1964.9 283.6 2211 71.1 1995.7 130.6 2115.2 82.4 2027.6 320.5 2147.2 62.6 2088.9 269.5 2032.5 312 2041.5 244 1965.2 258.1 1983.3 147.6 2013 368.7 1975.3 320.5 2249.3 102.2 1985.7 439.5 2080.2 59.7 2050 181.6 2042.3 184.4 2030.7 312 2020 368.7 2120.6 88.1 2074 113.6 2054.5 119.2 2133.4 76.7 1977.7 241.1 2003.9 79.6 2037.8 178.8 1973.8 195.8 2053.1 119.2 2047 209.9 2065.2 161.8 1971 261 2026.7 283.6 1973.3 178.8 2065.8 59.7 2045.7 141.9 1974.8 326.2 2013.5 278 1992.9 346 2058 62.6 2046.9 204.3 2005.3 113.6 2031.5 314.8 2038 343.2 1979.2 238.3 2004.6 79.6 2097.8 153.3 1979 266.6 2127.6 90.9 2103.4 147.6 1997.9 354.5 2055.7 116.4 2059.3 187.3 2076.2 62.6 2036.7 297.8 2012.4 363 1960.7 261 2044.4 340.3 1983.1 201.4 2105.4 76.7 2092.2 88.1 2029.5 218.4 2019.4 368.7 2096.4 133.4 2022.7 227 2146.4 71.1 2023.1 62.6 2170.5 71.1 2045.1 244 2035.5 127.7 2076.8 113.6 2028.4 252.5 1983.1 204.3 2136 73.9 2043.6 198.6 2015.2 289.3 2019.6 326.2 2205.6 68.2 2007.4 88.1 1966.1 297.8 2063 107.9 1965.8 292.1 2145.6 65.4 1972 221.3 2046.1 190.1 2214.5 62.6 2118.2 76.7 2043 136.3 2036 190.1 2033.6 297.8 2003 320.5 2012.6 88.1 2052.5 192.9 2105.3 201.4 2045.7 258.1 2242.6 59.7 2148.7 102.2 1969.5 272.3 2011.3 340.3 2066.1 317.7 2147.9 65.4 2018.4 62.6 2018.4 397 2062.6 56.9 1994.5 266.6 2094.4 258.1 1998.9 71.1 2172.3 76.7 1958.5 238.3 1998.1 266.6 2017.3 292.1 1979.4 263.8 2032 295 2061.4 215.6 2040.6 184.4 1973.5 215.6 1998 133.4 1990.3 255.3 2095.5 82.4 2035.9 232.6 2045 303.5 2084.9 207.1 2244.8 76.7 2096.4 105.1 2087.4 99.4 2027.9 261 2022.2 218.4 1970.4 340.3 2027.5 292.1 2022.1 235.5 2055 204.3 2106.8 73.9 1998.3 368.7 2079.8 173.1 2003 124.9 2020.1 252.5 2006.6 65.4 2020.3 249.6 2130.8 113.6 2015.6 337.5 2025.1 130.6 2027.2 297.8 1996.8 102.2 2052 116.4 2032.8 340.3 2038.3 227 2004 71.1 2060.7 65.4 2069.1 65.4 2059.5 147.6 2048 272.3 2043 244 2029.7 141.9 2011.3 275.1 2118.8 71.1 1985.6 280.8 2130 71.1 2014.7 269.5 2068.6 209.9 2073.3 139.1 2014.7 88.1 2090 144.8 2023.2 312 2036.3 141.9 2023.4 238.3 1986.3 326.2 2031.5 272.3 1976.5 258.1 2022.4 419.7 1999.7 326.2 2034 167.4 2071.2 65.4 2174.8 391.3 2142.4 65.4 2080.5 65.4 2083.4 144.8 2006.7 102.2 1968.6 382.8 1975.5 227 2087.9 141.9 2022.4 334.7 1994.7 354.5 2034.5 150.4 2031.9 286.5 2042.6 124.9 1967.7 306.3 2026 62.6 1986.1 340.3 2119.4 99.4 2038.8 207.1 1999.7 249.6 2021.3 141.9 2017.9 255.3 2010.7 227 2010 71.1 2030.3 62.6 1974.3 292.1 1970.7 204.3 2046.9 107.9 2017.4 187.3 2042.4 337.5 2030.4 144.8 2100.6 82.4 2008 65.4 2012.6 201.4 2016.1 244 2016.3 326.2 1970.1 368.7 2007.2 275.1 2064.5 96.6 2016.6 85.2 2014.1 303.5 2007.3 113.6 1981.3 368.7 2009.7 258.1 1990.3 368.7 1979.5 241.1 2056.7 141.9 1981.2 68.2 2038.9 326.2 2027.1 198.6 1992.8 218.4 1991 312 2060.6 93.7 2010.2 215.6 2055.2 93.7 2017.2 209.9 2061.9 156.1 2030.6 275.1 2018.6 122.1 2024.9 235.5 2041.2 59.7 1991.9 337.5 1985.3 192.9 2039.4 96.6 1980.9 303.5 2017.6 79.6 2066.8 323.3 1996.3 204.3 1991.1 181.6 1982.3 153.3 2000 238.3 2020.8 88.1 2078.4 99.4 2032.5 105.1 2056.5 192.9 2033.5 62.6 2034.1 65.4 1974 340.3 1977.5 292.1 2027.3 96.6 2025.7 110.7 1984.2 320.5 1999.6 158.9 2082.8 79.6 2019.9 215.6 2077 73.9 2051.2 85.2 2084.5 88.1 1993.7 275.1 2015.1 76.7 2052.9 93.7 1984.4 164.6 1975 224.1 2155.2 71.1 2001.4 241.1 2005.9 312 2014.9 130.6 2086.8 68.2 2108.8 71.1 1991 292.1 1996.2 340.3 2015.3 241.1 2042.7 79.6 1994.2 297.8 2017.1 107.9 1998.9 144.8 2049.2 167.4 2033.6 201.4 2033.4 150.4 1988.2 232.6 2091.9 62.6 1989.9 286.5 1978.7 340.3 2089 150.4 2004.9 334.7 2005.8 127.7 1977.3 286.5 2084.1 107.9 2012.4 187.3 2070.3 82.4 2137 68.2 2007.3 283.6 2002.6 266.6 2021 297.8 1992.3 252.5 1998.8 331.8 1975.8 312 1983.5 173.1 2026.8 65.4 2003.2 340.3 1994 198.6 2031 71.1 2026.2 147.6 2036.7 116.4 2047.8 65.4 2007.8 212.8 2030.6 175.9 2043.9 161.8 2002.4 201.4 2030 164.6 2124.9 71.1 2086.4 88.1 2072.7 150.4 2029.8 124.9 1988.5 244 1992.5 255.3 2013.9 96.6 2070.8 93.7 2045.6 71.1 1989.4 244 2023.9 175.9 2003.5 297.8 1991.4 238.3 2128.1 65.4 2003.9 175.9 2035.1 184.4 1983.4 303.5 2055.4 79.6 2013.8 141.9 2003.3 289.3 2044.2 113.6 1980.7 365.8 2075.6 73.9 2010.1 207.1 2128.7 65.4 2064.4 79.6 2006.5 368.7 2033.9 96.6 2051.7 65.4 2035.7 73.9 2008.9 96.6 2003.8 161.8 1980.4 187.3 2013.3 65.4 2093.5 62.6 2032.4 99.4 2026.8 187.3 2018.9 161.8 2008 187.3 2030.5 207.1 1988.4 368.7 2041.1 283.6 2027.6 306.3 2029.9 119.2 2050.9 153.3 2040.9 79.6 2012.7 73.9 2006.4 175.9 1983.6 209.9 1979.8 326.2 2001.3 215.6 1995.9 306.3 2015 295 1978.1 158.9 2045.3 221.3 1991.3 249.6 2003.1 198.6 2008.7 110.7 2015.1 158.9 2023.8 71.1 2096.9 73.9 2101.8 62.6 2052.7 65.4 2011.2 161.8 2021.1 71.1 2032.7 161.8 2009 295 2116 65.4 2004.1 212.8 1965.5 331.8 2022.9 156.1 2024.3 116.4 2057.6 65.4 2107.4 68.2 1990.7 173.1 2028.1 88.1 2103 73.9 2020.4 181.6 1997.1 187.3 2055.5 71.1 2014.8 153.3 2106.1 62.6 1995.7 153.3 2082.4 59.7 1992 144.8 1985 156.1 2004.2 207.1 1977.4 209.9 1980.3 221.3 2053.5 93.7 2064.6 68.2 2029.6 71.1 2047.7 122.1 2008.2 153.3 2025.4 116.4 2018.9 175.9 2007.4 312 1982.9 212.8 2002.9 192.9 2032.6 192.9 2143.4 85.2 2003.3 224.1 1994.6 227 2010.4 201.4 2026 88.1 2059.1 76.7 2016.5 71.1 2229.2 105.1 2010.5 178.8 1976 252.5 2006.8 141.9" fill="none" stroke="none" marker-start="url(#m)" marker-mid="url(#m)" marker-end="url(#m)"/>
<path d="M1927 36.26V469.07M1925.93 468H2328.07" stroke="#000" stroke-width="2.133" fill="none"/>
<path d="M1939 468v9.33M2063 468v9.33M2187 468v9.33M2311 468v9.33M1927 425h-9.33M1927 369h-9.33M1927 312h-9.33M1927 255h-9.33M1927 199h-9.33M1927 142h-9.33M1927 85h-9.33" stroke="#000" stroke-width="2.133" fill="none"/>
</g>
<g>
<path d="M287.9 880.2 577.6 821.4 335.3 801.9 353.8 816 372.2 886 556.6 744.5 430.1 869.7 540.8 747.6 309 866.2 575 803.2 353.8 762.4 498.6 880.5 409.1 799.2 293.2 870 401.2 877.2 311.6 868 351.1 825.8 575 869.8 435.4 768.1 461.7 788.9 477.5 791.9 327.4 820.6 530.2 696.1 393.3 883.7 474.9 872.4 543.4 782.5 232.6 849.7 427.5 756.2 464.4 890 248.4 859.2 419.6 821.4 482.8 901 214.2 856.9 480.2 758.8 419.6 794.4 393.3 882 572.4 766.5 422.2 764.2 311.6 858.7 575 862.4 575 774.7 380.1 783.4 261.6 849.6 340.6 817.7 417 872.6 567.1 732.4 248.4 846.5 569.7 738.7 335.3 828.9 469.6 796.1 287.9 884.4 235.2 807.3 456.5 868.8 506.5 811.1 314.3 868.6 501.2 739.4 572.4 889.3 538.1 774.5 575 817.3 361.7 814.8 322.2 832.1 538.1 868.3 561.8 764.3 340.6 901 538.1 764.8 235.2 901 577.6 845.4 287.9 849.1 430.1 772.9 575 848.7 572.4 790.8 522.3 870.3 564.5 766 456.5 794.2 509.2 869.1 496 779.2 440.7 779.3 451.2 870.4 430.1 868.8 453.8 792.9 572.4 758.6 461.7 901 380.1 901 493.3 901 546 786.4 572.4 851.8 287.9 820.3 332.7 901 535.5 777.4 222.1 850.4 459.1 808.9 461.7 867.3 348.5 901 448.6 869.2 519.7 792.7 388 888.6 385.4 875.1 366.9 880.3 575 808.1 551.3 873.5 309 842.3 398.5 878.4 543.4 767.8 327.4 836.8 540.8 801 311.6 842.7 488.1 756.5 316.9 877 382.7 867.7 493.3 769.5 301.1 852.4 522.3 799.1 456.5 786.4 572.4 804.8 293.2 867.3 506.5 820.6 388 901 551.3 784.9 361.7 863 427.5 803.2 506.5 792.1 419.6 805.5 324.8 877.2 572.4 860.9 503.9 823.1 390.6 867.1 395.9 817.7 464.4 860.3 327.4 807.3 353.8 880.5 530.2 783.5 514.4 822 572.4 702.9 503.9 782 485.4 782.3 443.3 779.3 575 751.8 382.7 842.8 314.3 873.5 335.3 804.3 451.2 796.5 572.4 509.8 261.6 843.3 577.6 829.5 469.6 810.9 390.6 824.1 287.9 869.2 359 888.9 464.4 901 430.1 788.7 506.5 864.3 527.6 864.5 414.3 825.4 438 784.5 559.2 730.7 393.3 869.4 409.1 829.5 501.2 844.8 517.1 857.7 538.1 785.2 388 845 456.5 810.9 440.7 802 440.7 794.9 490.7 876.4 514.4 863.9 314.3 872.3 287.9 861.2 469.6 777.1 514.4 852.9 445.9 783.7 453.8 799.6 567.1 770.8 569.7 876.3 445.9 863 335.3 866.9 525 763.1 424.9 811.9 572.4 782.2 382.7 851.4 448.6 858.9 535.5 852.7 340.6 858.5 314.3 862.7 419.6 763.5 564.5 878.8 377.5 833.9 403.8 821.8 374.8 858 485.4 901 498.6 808.3 395.9 901 564.5 766.5 369.6 847.2 569.7 782.9 496 867.7 496 808.3 435.4 790.4 501.2 802.6 496 791.3 469.6 870.7 501.2 857.5 498.6 846 490.7 901 377.5 823.3 390.6 846.4 240.5 856.2 453.8 901 266.8 830.1 496 822.8 419.6 852.9 517.1 812.7 496 789.7 274.7 868 498.6 753.7 301.1 901 485.4 802.7 364.3 823 540.8 861.2 556.6 773.6 540.8 851.2 530.2 819.2 572.4 864.6 406.4 860.4 314.3 890.2 498.6 874.8 548.7 869.2 438 785.7 340.6 855.6 448.6 855.1 498.6 825.4 543.4 871.7 393.3 836.2 572.4 574.8 532.9 816.8 572.4 798.9 530.2 788.6 572.4 848.7 569.7 858.4 411.7 867 569.7 849.6 327.4 876.5 287.9 901 551.3 865.8 348.5 834.7 525 846.9 561.8 877.9 287.9 864.7 390.6 838.2 493.3 827.4 353.8 878.2 406.4 862.9 514.4 837.3 498.6 848.6 406.4 836.8 327.4 840.9 445.9 809.9 340.6 845 527.6 812.9 474.9 864.3 485.4 813 374.8 858.8 477.5 851.1 438 816.3 517.1 840.7 575 840.9 532.9 844.1 314.3 858.6 451.2 853.6 330.1 860.9 440.7 852.1 409.1 901 559.2 695.7 340.6 853.5 548.7 821.1 538.1 822.6 532.9 802.7 438 858.2 572.4 822.3 314.3 834.7 422.2 864 482.8 879.2 527.6 842.7 332.7 852.7 482.8 873.2 417 835.3 430.1 810.3 561.8 782.1 548.7 789.5 374.8 867.2 559.2 862.6 543.4 805.8 477.5 901 406.4 829.6 480.2 811.2 422.2 849.3 564.5 774.9 406.4 839 340.6 829.7 509.2 826.1 496 830.9 359 901 314.3 851.4 406.4 827.1 472.3 849.2 482.8 816.9 530.2 835.8 496 854.8 482.8 828.6 474.9 796.2 482.8 842.2 443.3 820.1 414.3 901 572.4 817.6 364.3 880.4 314.3 838.8 490.7 788.2 488.1 859.4 319.5 848.4 511.8 856.6 451.2 825.9 364.3 861.1 530.2 792.4 453.8 846.3 553.9 814.3 567.1 782.6 366.9 851.9 424.9 843.8 382.7 863.4 493.3 871.1 395.9 861.6 322.2 837.4 340.6 890.6 469.6 853.6 569.7 846 348.5 868.2 314.3 847.4 493.3 855.4 522.3 833.1 569.7 855.8 480.2 802 443.3 845.5 477.5 807.2 353.8 827.4 564.5 776.5 493.3 843.9 430.1 829.4 490.7 796.9 514.4 825.8 403.8 901 393.3 852.4 540.8 850.4 403.8 869.3 467 815.7 353.8 868.7 409.1 848.9 459.1 829.7 348.5 870.6 556.6 831.2 498.6 835.2 361.7 860.7 525 816.5 290.6 859.6 551.3 854.3 561.8 816.8 438 850.3 569.7 792.2 556.6 856.2 287.9 853.7 540.8 826.1 569.7 812.6 540.8 835.8 480.2 865.8 456.5 848.3 569.7 871.2 572.4 832 464.4 837.4 538.1 845.8 456.5 814.2 490.7 868.2 456.5 901 438 832.9 287.9 840 366.9 839.2 345.9 847.8 519.7 832.9 488.1 791.9 556.6 803.5 561.8 850.7 467 828.1 327.4 871.9 430.1 836.7 345.9 855.7 356.4 851.7 482.8 871 424.9 820.1 398.5 869.7 445.9 901 527.6 841.6 564.5 862.5 561.8 797.6 572.4 802.8 569.7 810 480.2 838.5 480.2 826.3 356.4 837.2 569.7 787.2 432.8 846.7 322.2 872 485.4 833.1 522.3 838.6 569.7 824.6 469.6 848.3 548.7 847.6 561.8 821.2 461.7 855.9 456.5 852.1 564.5 810.5 488.1 868.1 488.1 876.3 575 839.9 496 845.3 485.4 868 438 901 435.4 867 424.9 901 543.4 835.3 567.1 829.9 564.5 841.1 517.1 801.2 488.1 836.7 522.3 814.8 467 813.4 340.6 876.1 432.8 901 451.2 829.8 451.2 816.1 551.3 800.4 422.2 847.6 419.6 901 443.3 839.5 548.7 844.2 559.2 833.7 564.5 854.9 532.9 782.5 464.4 851.2 395.9 863.8 498.6 832.2" fill="none" stroke="none" marker-start="url(#m)" marker-mid="url(#m)" marker-end="url(#m)"/>
<path d="M196 489.19V922.07M194.93 921H596.87" stroke="#000" stroke-width="2.133" fill="none"/>
<path d="M288 921v9.33M420 921v9.33M551 921v9.33M196 901h-9.33M196 837h-9.33M196 773h-9.33M196 709h-9.33M196 645h-9.33M196 581h-9.33M196 517h-9.33" stroke="#000" stroke-width="2.133" fill="none"/>
<text x="177.33" y="911.06" text-anchor="end">0</text>
<text x="177.33" y="847.05" text-anchor="end">1000</text>
<text x="177.33" y="783.03" text-anchor="end">2000</text>
<text x="177.33" y="719.01" text-anchor="end">3000</text>
<text x="177.33" y="654.99" text-anchor="end">4000</text>
<text x="177.33" y="590.98" text-anchor="end">5000</text>
<text x="177.33" y="526.96" text-anchor="end">6000</text>
<text transform="translate(91.90 706.69) rotate(-90)" text-anchor="middle">Total_Bsmt_SF</text>
</g>
<g>
<g fill="#1f77b4" fill-opacity="0.75" stroke="#000" stroke-width="0.472"><rect x="646.97" y="871.62" width="4.72" height="48.90"/><rect x="656.41" y="915.72" width="4.72" height="4.80"/><rect x="661.13" y="915.72" width="4.72" height="4.80"/><rect x="665.85" y="899.52" width="4.72" height="21.00"/><rect x="670.57" y="906.82" width="4.72" height="13.70"/><rect x="675.29" y="865.62" width="4.72" height="54.90"/><rect x="680.01" y="848.52" width="4.72" height="72.00"/><rect x="684.73" y="823.72" width="4.72" height="96.80"/><rect x="689.45" y="763.62" width="4.72" height="156.90"/><rect x="694.17" y="724.72" width="4.72" height="195.80"/><rect x="698.89" y="755.52" width="4.72" height="165.00"/><rect x="703.61" y="769.52" width="4.72" height="151.00"/><rect x="708.34" y="771.62" width="4.72" height="148.90"/><rect x="713.06" y="817.82" width="4.72" height="102.70"/><rect x="717.78" y="814.82" width="4.72" height="105.70"/><rect x="722.50" y="850.72" width="4.72" height="69.80"/><rect x="727.22" y="847.82" width="4.72" height="72.70"/><rect x="731.94" y="850.72" width="4.72" height="69.80"/><rect x="736.66" y="852.52" width="4.72" height="68.00"/><rect x="741.38" y="870.72" width="4.72" height="49.80"/><rect x="746.10" y="879.72" width="4.72" height="40.80"/><rect x="750.82" y="898.72" width="4.72" height="21.80"/><rect x="755.54" y="898.72" width="4.72" height="21.80"/><rect x="760.26" y="905.52" width="4.72" height="15.00"/><rect x="764.98" y="913.62" width="4.72" height="6.90"/><rect x="769.70" y="913.62" width="4.72" height="6.90"/><rect x="774.42" y="914.82" width="4.72" height="5.70"/><rect x="779.14" y="919.52" width="4.72" height="1.00"/><rect x="783.86" y="919.52" width="4.72" height="1.00"/><rect x="788.58" y="916.62" width="4.72" height="3.90"/><rect x="793.30" y="918.62" width="4.72" height="1.90"/><rect x="802.74" y="919.32" width="4.72" height="1.20"/><rect x="826.34" y="919.72" width="4.72" height="0.80"/><rect x="835.78" y="918.92" width="4.72" height="1.60"/><rect x="949.06" y="919.72" width="4.72" height="0.80"/><rect x="1005.71" y="919.72" width="4.72" height="0.80"/></g>
<path d="M629 489.19V922.07M627.93 921H1029.67" stroke="#000" stroke-width="2.133" fill="none"/>
<path d="M647 921v9.33M766 921v9.33M885 921v9.33M1004 921v9.33M629 901h-9.33M629 837h-9.33M629 773h-9.33M629 709h-9.33M629 645h-9.33M629 581h-9.33M629 517h-9.33" stroke="#000" stroke-width="2.133" fill="none"/>
</g>
<g>
<path d="M1131.5 823.5 1118.3 886 1240.9 744.5 1238.3 747.6 1208.8 803.2 1161.2 762.4 1171.1 901 1214.2 835.9 1195.6 850 1345.9 901 1167.1 901 1300.7 696.1 1144.1 811.9 1157.6 802.4 1212.6 813.7 1180.7 775.5 1128.4 827 1210.3 763 1148.2 890 1111.4 886 1223.7 758.8 1123.2 831.7 1178.4 862.1 1124.8 882 1222.2 766.5 1081.8 877.9 1087.2 901 1195.1 849.7 1255.3 732.4 1258 738.7 1120.2 835.4 1178.1 901 1120.4 835.8 1186.1 852.8 1275.5 800.8 1087.8 868.8 1149.6 876.9 1110.8 844.5 1140 818.6 1209.2 822.1 1247 739.4 1130.6 889.3 1239.5 772.9 1189.3 901 1207 844.5 1227.9 779.3 1201.4 758.6 1173.5 781.1 1114.1 841.5 1162.9 901 1172 867.3 1163.6 792.7 1134.3 820.6 1124.4 833.3 1189.7 853.4 1171 857.1 1116.4 842.1 1226.6 756.5 1164.1 877 1210.9 769.5 1166.2 791.3 1086.1 877.2 1178.8 901 1087.1 877.1 1209.5 817.7 1191.4 799.9 1208.5 772.9 1087.5 880.5 1176.3 783.5 1100.8 901 1196.7 791.9 1106.9 901 1237.6 702.9 1122.6 839.7 1207 779.3 1234.7 751.8 1187 901 1412.5 509.8 1187.9 805.8 1079.8 901 1109.3 888.9 1175.1 851.1 1196.4 846.1 1135.3 821.2 1257.3 730.7 1088.9 876.4 1158.9 866.4 1213.7 817.8 1162.6 901 1191.1 777.1 1182.6 847.1 1181.2 783.7 1160.8 799.6 1193.4 770.8 1144.7 876.3 1218.7 763.1 1186.5 848.6 1178 782.2 1167 865.8 1218.2 763.5 1137 878.8 1136.4 901 1167.3 799.8 1146.9 808.3 1214.8 766.5 1104.5 853.1 1133 825.5 1135 869 1161.1 850.9 1206.6 805.2 1092.7 901 1137.5 823.3 1178.3 844.1 1183.8 843.6 1184.5 795.5 1187.6 841.4 1171.8 789.5 1234.5 753.7 1118.8 901 1143.9 864.2 1206.2 773.6 1172.9 845.3 1155.9 864.6 1086.5 890.2 1141.2 901 1145.9 821.1 1200.5 785.7 1443.2 574.8 1130 901 1140.1 867 1211.5 812 1198.2 835.4 1140.5 864.8 1110.3 878.2 1160.7 848.6 1196.9 813.2 1182 812.9 1146.4 858.8 1155.2 840.7 1098.4 858.6 1150.3 860.9 1153.8 852.1 1112.4 901 1191.6 838.9 1178.6 695.7 1120 879.2 1174 840.4 1195.9 782.1 1118.6 867.2 1111.1 848.2 1125.6 901 1205.7 774.9 1097.1 901 1177.6 820.1 1111.3 901 1104.9 880.4 1181.1 788.2 1106.9 856.6 1098.8 863.4 1097.4 890.6 1115 868.2 1147.7 846.2 1180.2 901 1162.1 807.2 1202.7 776.5 1221 838.5 1168.3 825.8 1122.7 901 1172.7 814 1161.4 815.7 1177 830.2 1104.3 859.6 1166.9 806.7 1141.4 826.1 1173.1 834.8 1095.7 865.8 1105.3 871.2 1195.4 832 1162.9 832.4 1107.5 868.2 1161.8 901 1136.5 840 1123.4 839.2 1155.1 847.8 1184.2 791.9 1170.7 803.5 1129.3 828.1 1086.8 871.9 1125.9 855.7 1141.3 851.7 1089.9 871 1150.8 820.1 1131.6 869.7 1155.7 901 1119.9 862.5 1177.4 797.6 1171.4 802.8 1163.1 810 1137.3 831.2 1153 837.2 1189.9 787.2 1127.1 846.7 1102.4 872 1138.7 833.1 1145.5 824.6 1194.7 832.9 1119.9 848.3 1195 821.2 1140.7 855.9 1112.9 852.1 1162.5 810.5 1095.1 876.3 1130.8 839.9 1120.3 845.3 1093.4 868 1153.5 901 1095 867 1150.6 901 1182.7 835.3 1193.3 829.9 1125.4 841.1 1181 801.2 1128.9 836.7 1158.8 813.4 1096.8 876.1 1145.4 901 1139.1 829.8 1155.4 816.1 1174.2 800.4 1117.8 847.6 1143.7 901 1128.8 839.5 1123.1 844.2 1186.2 833.7 1109.4 854.9 1195.5 782.5 1137.3 851.2 1114.3 863.8 1158.8 832.2" fill="none" stroke="none" marker-start="url(#m)" marker-mid="url(#m)" marker-end="url(#m)"/>
<path d="M1062 489.19V922.07M1060.93 921H1462.47" stroke="#000" stroke-width="2.133" fill="none"/>
<path d="M1207 921v9.33M1360 921v9.33M1062 901h-9.33M1062 837h-9.33M1062 773h-9.33M1062 709h-9.33M1062 645h-9.33M1062 581h-9.33M1062 517h-9.33" stroke="#000" stroke-width="2.133" fill="none"/>
</g>
<g>
<path d="M1536.3 854.6 1550.2 834.6 1598.6 780.6 1547.2 886 1657.1 744.5 1796.2 747.6 1629 901 1585.6 762.4 1596.5 880.5 1594.5 901 1700.5 799.2 1558 826.3 1680.6 860.7 1682.9 790 1751.3 901 1674.6 792.1 1590.9 901 1693.3 788.9 1710.7 696.1 1590.8 883.7 1582.4 802.4 1603.1 775.5 1629.7 763 1672.4 858.8 1574 890 1714.2 801.2 1614.1 886 1641.7 758.8 1634.1 791.4 1551.4 833.6 1553 882 1660.9 766.5 1741.1 783.4 1700.5 817.7 1670 732.4 1672.4 738.7 1535.7 877.1 1627.8 866.8 1600.8 901 1573.8 884.4 1728.9 807.3 1543.3 843.2 1688.1 800.8 1572 811.8 1662.5 739.4 1619.8 889.3 1680.3 843.3 1640.3 901 1655.8 772.9 1677 841.5 1673.8 791.6 1637.1 792.9 1645.5 779.3 1617.8 870.4 1621.6 758.6 1700.7 830.5 1633.9 901 1661.7 779.3 1644.7 781.1 1654.8 858.7 1738.1 777.4 1582 808.9 1631.9 796 1633.6 797.2 1605.2 868.5 1587.8 792.7 1664.4 796.6 1535.8 888.6 1539.3 875.1 1575.2 880.3 1552.6 833.3 1585.7 878.4 1640.1 790.2 1644.3 756.5 1588.2 877 1678.2 774.4 1699.8 804.9 1679.6 815.3 1630.2 769.5 1536.5 901 1657.5 849 1679.6 819 1590.1 791.3 1648.7 808.8 1556.2 877.2 1658.4 811.2 1720.7 772.9 1519.5 880.5 1599.1 783.5 1587.8 901 1639 858.3 1536.9 901 1654.2 702.9 1622.2 798 1675.4 800.7 1660.9 779.3 1651.6 751.8 1702 804.3 1608.7 901 1646.8 798 1876 509.8 1664.5 843.3 1713.2 795.3 1528.8 867.2 1512.6 901 1539 888.9 1645.1 797.7 1668.6 828.2 1666.5 813.3 1562.4 821.2 1666.8 784.5 1574.2 813.4 1671.8 730.7 1601.7 869.4 1577.3 813.7 1609.5 866.4 1612 901 1612.4 777.1 1585.3 799.6 1614.5 770.8 1710.2 763.1 1600.7 782.2 1636.7 763.5 1640.9 817.9 1591.1 799.8 1633.7 766.5 1615.8 782.9 1660.5 869 1661.4 802.5 1666 841.6 1572.7 877.5 1639.5 809.7 1606.5 795.5 1736.8 830.1 1620.1 806.6 1595.1 789.5 1658.4 789.7 1542.9 901 1651.4 753.7 1601.5 901 1625.9 773.6 1560.1 890.2 1662.8 809.5 1571.9 821.1 1621.3 869.2 1620.8 785.7 1670.2 816.3 1838.6 574.8 1557.6 901 1609.8 788.6 1634.8 852 1630.7 848.7 1572.1 876.5 1674.6 835.4 1596.5 877.9 1583.2 878.2 1530 863.1 1628.6 809.3 1660.3 841.8 1636.4 813 1650.3 858.8 1650.1 846.7 1646.6 844.1 1540 853.6 1649.6 860.9 1602.9 901 1549.5 871.7 1661.5 838.9 1616.5 901 1601.2 695.7 1630.3 822.6 1533.8 859.8 1623.7 879.2 1606.2 861.9 1575.3 873.2 1613.2 809.5 1649.4 782.1 1609 789.5 1547.4 867.2 1553.7 901 1625.6 774.9 1564.6 901 1639.4 796.2 1600.3 820.1 1540.8 901 1651.2 817.6 1561.5 880.4 1603.5 788.2 1618.1 859.4 1570.2 825.9 1637.5 834.6 1664.9 782.6 1629.2 845.9 1528.4 890.6 1540.7 853.6 1624.3 846 1613.9 868.2 1616.6 847.4 1636.8 901 1586.4 807.2 1598.1 827.4 1622.8 776.5 1566.2 829.4 1592 825.8 1551.1 901 1602.6 850.4 1595.9 814 1585.8 815.7 1642.7 830.2 1595.1 859.6 1600.3 854.3 1658.5 816.8 1566.5 850.3 1624.7 856.2 1590.7 806.7 1621.3 826.1 1620.2 812.6 1579.1 865.8 1587.7 871.2 1616.3 832 1632.3 837.4 1605.8 845.8 1613.7 814.2 1587.2 832.4 1586.2 901 1563.5 840 1600 839.2 1615.2 847.8 1600.9 832.9 1606.3 791.9 1594.2 803.5 1557 828.1 1554.8 871.9 1553.9 855.7 1596.8 851.7 1576.3 820.1 1559 869.7 1580.6 901 1553.2 841.6 1561.7 833.7 1596.2 862.5 1600.2 797.6 1594.8 802.8 1587.3 810 1564.2 831.2 1648.2 826.3 1578.2 837.2 1653.5 787.2 1555 846.7 1532.9 872 1661.4 833.1 1612.8 824.6 1615.6 832.9 1548.6 848.3 1588.7 847.6 1650.2 821.2 1567.2 855.9 1542.3 852.1 1586.8 810.5 1574.7 868.1 1641.5 839.5 1570 876.3 1646.5 839.9 1548.9 845.3 1571.9 868 1578.7 901 1572 867 1576.1 901 1649.6 835.3 1614.4 829.9 1583.5 841.1 1603.4 801.2 1556.6 836.7 1583.4 813.4 1560.5 876.1 1571.4 901 1565.8 829.8 1580.4 816.1 1631.7 800.4 1580.5 847.6 1569.9 901 1556.5 839.5 1597.7 844.2 1608.1 833.7 1578.6 854.9 1728.3 782.5 1564.2 851.2 1543.5 863.8 1583.5 832.2" fill="none" stroke="none" marker-start="url(#m)" marker-mid="url(#m)" marker-end="url(#m)"/>
<path d="M1494 489.19V922.07M1492.93 921H1895.27" stroke="#000" stroke-width="2.133" fill="none"/>
<path d="M1627 921v9.33M1764 921v9.33M1494 901h-9.33M1494 837h-9.33M1494 773h-9.33M1494 709h-9.33M1494 645h-9.33M1494 581h-9.33M1494 517h-9.33" stroke="#000" stroke-width="2.133" fill="none"/>
</g>
<g>
<path d="M2159.3 801.8 2206.1 744.5 2308.8 747.6 2022 901 1993.6 762.4 2085.5 779.3 1966.4 853 2149.5 807.4 2070.6 860.7 2231.9 790 2080.3 901 2045.7 768.1 1990.8 824.7 1981.1 832.1 2152.5 696.1 2134.3 813.7 2167.4 763 2048.2 756.2 2075.7 858.8 2006.7 890 2204.6 801.2 1999.3 821.4 2068.1 758.8 2138.1 770.8 2015.8 901 1945.4 857.6 2051.4 855.7 2003.6 882 2188.2 766.5 2063.1 764.2 1945.5 901 2130.7 774.7 2145 783.4 2170.6 732.4 2242.3 738.7 1964.6 884.4 2031.3 876.9 2122.5 822.1 2130.1 739.4 2028.4 889.3 2102.6 764.3 2096 852.5 1967 846.4 2058.2 772.9 2051.6 855.3 1964.9 862.8 2211 766 2053.2 779.3 2014.6 792.9 2147.2 758.6 2037.2 864.3 2034 862.5 1965.2 869.2 2132.5 838.1 2003.6 820.3 2249.3 777.4 1984.1 832.3 2133.4 836.4 2020.5 790 1971 888.6 2026.7 880.3 2066 767.8 2097.8 756.5 2127.6 804.9 2103.4 769.5 2078.3 848.9 2087.1 780.1 2146.4 786.9 2170.5 775.2 1980 877.1 1990.9 832.2 2136 811.2 1999.4 825.1 2205.6 772.9 1966.1 880.5 2063 783.5 1965.8 901 2145.6 794.7 2214.5 702.9 2125.6 798 2118.2 800.7 2043 782 2057.9 782.3 2105.3 779.3 2242.6 751.8 2148.7 807.7 2044.1 855.9 2011.9 901 2147.9 798 2030.9 796.5 2018.4 509.8 2172.3 795.3 2104.7 783.4 1958.5 901 2016.1 799.2 1999 888.9 2061.4 788.7 2112.9 813.3 2103.8 788.4 2244.8 730.7 2055 794.9 2063.8 866.4 1977.9 872.3 2106.8 817.8 2079.8 777.1 2076.4 851.8 2031.8 783.7 2020.4 799.6 2110.5 770.8 2068.1 792.8 2130.8 763.1 2007.3 811.9 2092.4 782.2 1992.8 830.5 2032.8 862.7 2038.3 763.5 2004 878.8 2085.3 842.1 2029.7 799.8 2069.9 852.2 2014.1 808.3 2118.8 766.5 2062.9 800.3 2130 776 2080.9 782.9 2068.6 790.4 2032.5 869 2075.4 846.4 2109.9 802.5 2091.6 805.2 2078.7 824.8 2071.2 809.7 2174.8 830.1 2142.4 806.6 1968.6 868 2021.8 804.3 2087.9 753.7 1997 830.5 2073.7 773.6 1967.7 854.1 1986.1 890.2 2119.4 809.5 2025.6 869.2 2038.8 785.7 2030.3 574.8 1974.3 863.2 2044.8 798.9 2046.9 788.6 2042.4 852 2098.5 848.7 1970.1 901 2036 843.9 2064.5 835.4 2022.3 877.9 2067.8 813.2 2060.6 844.9 2045.5 822 2055.2 841.8 2030.6 858.8 2097.6 846.7 2006.2 816.3 2041.2 840.9 2066.8 860.9 2029.6 805.1 2000 901 2080 695.7 2078.4 822.6 2032.5 802.7 1974 834.7 2009 879.2 2026.2 861.9 1997.5 835.3 2082.8 809.5 2019.9 810.3 2077 782.1 2051.2 797.7 2084.5 789.5 2000.3 829.6 1975 849.3 2155.2 774.9 2086.8 796.2 2108.8 809.6 2015.3 827.1 2091.9 817.6 2044.3 838.1 1989.9 880.4 1978.7 838.8 2089 788.2 2009 825.9 1977.3 861.1 2084.1 792.4 2070.3 814.3 2137 782.6 1975.8 890.6 2047.8 855.8 2043.8 837.8 2043.9 802 2030 807.2 2006.5 827.4 2124.9 776.5 2086.4 838.5 2001.9 829.4 2072.7 796.9 1988.5 901 2070.8 830.8 2128.1 830.2 1983.4 870.6 1980.7 859.6 2028.9 854.3 2075.6 816.8 2128.7 792.2 2064.4 856.2 2057.5 806.7 2035.7 834.8 2003.8 865.8 1980.4 848.3 2013.3 871.2 2093.5 832 2032.4 845.8 2026.8 814.2 2001.2 868.2 2008 901 1988.4 840 2041.1 839.2 2029.9 832.9 2050.9 791.9 2040.9 803.5 2006.4 828.1 1979.8 871.9 2001.3 836.7 1995.9 855.7 1978.1 871 2045.3 820.1 1991.3 869.7 2003.1 901 2023.8 862.5 2096.9 797.6 2101.8 802.8 2052.7 810 2021.1 831.2 2032.7 826.3 2116 787.2 1965.5 872 2022.9 833.1 2024.3 838.6 2057.6 824.6 2107.4 832.9 1990.7 848.3 2028.1 847.6 2103 821.2 2020.4 855.9 1997.1 852.1 2055.5 810.5 2014.8 868.1 2106.1 839.5 1995.7 876.3 2082.4 839.9 1992 845.3 1985 868 2004.2 901 1977.4 867 1980.3 901 2053.5 835.3 2064.6 829.9 2029.6 841.1 2047.7 801.2 2008.2 836.7 2025.4 814.8 2018.9 813.4 2007.4 876.1 1982.9 901 2002.9 829.8 2032.6 816.1 2143.4 800.4 2003.3 847.6 1994.6 901 2010.4 839.5 2026 844.2 2059.1 833.7 2016.5 854.9 2229.2 782.5 2010.5 851.2 1976 863.8 2006.8 832.2" fill="none" stroke="none" marker-start="url(#m)" marker-mid="url(#m)" marker-end="url(#m)"/>
<path d="M1927 489.19V922.07M1925.93 921H2328.07" stroke="#000" stroke-width="2.133" fill="none"/>
<path d="M1939 921v9.33M2063 921v9.33M2187 921v9.33M2311 921v9.33M1927 901h-9.33M1927 837h-9.33M1927 773h-9.33M1927 709h-9.33M1927 645h-9.33M1927 581h-9.33M1927 517h-9.33" stroke="#000" stroke-width="2.133" fill="none"/>
</g>
<g>
<path d="M287.9 1339.7 577.6 1279.3 477.5 1344.5 556.6 1180.5 540.8 1183.3 575 1215.1 403.8 1259.3 353.8 1266.3 503.9 1222.1 351.1 1263.6 409.1 1249.9 385.4 1288.4 390.6 1241.8 366.9 1336 443.3 1067.5 435.4 1210.8 461.7 1233.5 327.4 1278.2 414.3 1254 530.2 1116.1 314.3 1257.3 232.6 1299.2 364.3 1245.7 427.5 1195.6 248.4 1323.4 261.6 1303.3 214.2 1304.9 480.2 1198.9 419.6 1244.4 572.4 1200.6 330.1 1273.5 314.3 1251 422.2 1205.8 311.6 1320.6 366.9 1351.8 287.9 1345.9 575 1315.4 575 1233.3 380.1 1230.5 261.6 1313.3 506.5 1229.7 575 1279 340.6 1258.1 567.1 1165 248.4 1291 569.7 1162.1 401.2 1248 287.9 1336.4 324.8 1284 235.2 1244.7 569.7 1331.1 340.6 1270.6 517.1 1295.9 490.7 1143.2 456.5 1345.2 501.2 1174 538.1 1219.3 364.3 1333.6 575 1236.7 361.7 1270.7 322.2 1283.3 411.7 1336.9 443.3 1331 538.1 1338.9 561.8 1205.8 538.1 1220.6 235.2 1295.1 577.6 1310 430.1 1182 575 1283 572.4 1239.6 567.1 1329.6 361.7 1272.1 522.3 1331.5 451.2 1332 366.9 1331.6 514.4 1304.4 509.2 1326 496 1225 440.7 1194.4 332.7 1296.1 572.4 1223 380.1 1258.1 559.2 1332.4 287.9 1265.7 380.1 1333.2 340.6 1339.9 572.4 1318.1 287.9 1236 564.5 1330.4 569.7 1216.5 222.1 1317.9 477.5 1343.4 511.8 1309 519.7 1302.1 519.7 1297 340.6 1278.9 422.2 1231.3 422.2 1325 393.3 1281.5 330.1 1276.1 519.7 1307.6 575 1262.3 509.2 1324.9 430.1 1327.9 551.3 1335.7 525 1235.6 572.4 1266.1 543.4 1210.4 327.4 1299 469.6 1341.5 488.1 1195.9 316.9 1263.2 382.7 1338.7 472.3 1340.2 493.3 1212.8 301.1 1303 456.5 1234.4 572.4 1258.2 569.7 1225.9 511.8 1241.6 293.2 1300.1 314.3 1290.6 551.3 1231.9 427.5 1255.8 506.5 1237.6 419.6 1258.5 572.4 1286.2 324.8 1347.1 403.8 1268.6 572.4 1322.2 503.9 1281.2 356.4 1346 395.9 1214.3 361.7 1285.9 327.4 1260.7 364.3 1277 567.1 1215.4 353.8 1345.6 411.7 1328.3 456.5 1331.2 493.3 1228.1 424.9 1324.7 572.4 1184 503.9 1228.6 485.4 1228.7 548.7 1325 443.3 1217 575 1187.1 377.5 1326.3 382.7 1295.3 335.3 1253.2 572.4 995.9 435.4 1319.2 261.6 1252.8 359 1296.4 577.6 1248.7 569.7 1311.8 327.4 1312.6 390.6 1274.5 393.3 1334.4 287.9 1304.2 409.1 1353.9 461.7 1320.2 356.4 1305 430.1 1237 519.7 1325.9 430.1 1312.7 506.5 1288 527.6 1327.1 459.1 1260.1 438 1230.4 559.2 1162.8 501.2 1308.9 517.1 1322.6 388 1277.6 456.5 1246.4 314.3 1327.7 469.6 1259.8 490.7 1344.1 411.7 1264.8 469.6 1234.1 514.4 1319.9 409.1 1328.6 395.9 1294.9 335.3 1323.4 525 1204.4 424.9 1267.3 509.2 1251.6 572.4 1248.2 382.7 1317.6 353.8 1250.4 448.6 1327.4 535.5 1319.4 314.3 1323.8 369.6 1304.3 567.1 1314.2 419.6 1204.9 445.9 1310.1 459.1 1245.9 559.2 1231.4 403.8 1276.7 395.9 1322.4 377.5 1275.8 403.8 1280 374.8 1293.1 498.6 1281.7 564.5 1208.6 380.1 1308.4 501.2 1255.4 393.3 1312.8 496 1240.8 490.7 1342.3 469.6 1336.5 353.8 1304 501.2 1325.3 561.8 1217.4 532.9 1292.6 498.6 1310.7 327.4 1299.6 490.7 1340 377.5 1291.8 390.6 1305.1 240.5 1307.4 556.6 1283.3 327.4 1335.9 445.9 1242 266.8 1256.6 419.6 1319.3 496 1238.3 417 1279.2 274.7 1298.7 525 1257.3 498.6 1187.4 319.5 1321.8 301.1 1311.9 485.4 1255.3 364.3 1281.4 538.1 1284.7 540.8 1329.9 556.6 1217.9 514.4 1285.9 345.9 1291.6 540.8 1317.7 406.4 1323.2 314.3 1346.7 498.6 1338.2 522.3 1307.9 438 1224 559.2 1277.1 543.4 1273.2 340.6 1322.3 398.5 1295.1 498.6 1284.3 543.4 1317.7 572.4 962.7 477.5 1323.5 359 1310.8 532.9 1273.7 440.7 1306.8 572.4 1250.3 530.2 1237.2 496 1237.4 572.4 1283.9 569.7 1326.6 572.4 1271.9 551.3 1212.2 403.8 1314 327.4 1328.2 287.9 1306.9 374.8 1309.8 540.8 1226.4 464.4 1281.4 348.5 1281.7 525 1311.6 432.8 1305.6 287.9 1313.9 390.6 1297.2 493.3 1286.7 445.9 1300.5 398.5 1333 406.4 1332.7 514.4 1270.5 498.6 1266.8 327.4 1301.5 445.9 1264.3 427.5 1319.9 340.6 1309.2 527.6 1265.1 477.5 1243.9 485.4 1267.1 374.8 1282.2 482.8 1343.7 438 1272.6 517.1 1272.8 575 1304.7 532.9 1300 314.3 1333.9 451.2 1321 348.5 1309.5 330.1 1278 477.5 1258 477.5 1318.7 409.1 1277.9 472.3 1279.6 340.6 1317.3 548.7 1275.9 538.1 1261.9 532.9 1255.1 438 1326.5 451.2 1244.4 572.4 1280.3 569.7 1288.9 314.3 1296.5 422.2 1316.9 482.8 1310.6 443.3 1252.4 527.6 1306.5 332.7 1301.3 417 1296.7 430.1 1264.7 548.7 1238.2 374.8 1312.1 559.2 1332.2 453.8 1320.2 543.4 1259.3 406.4 1290.3 564.5 1318.2 422.2 1315 564.5 1218.3 406.4 1302 340.6 1290.5 509.2 1284.8 496 1295.6 359 1335.2 314.3 1315 406.4 1286.4 482.8 1273.2 353.8 1324.4 530.2 1279.9 474.9 1246.7 467 1290 482.8 1305.9 443.3 1248.7 490.7 1275.8 414.3 1320 572.4 1274.1 364.3 1326.8 314.3 1302 490.7 1244.8 488.1 1312.9 319.5 1313.3 511.8 1324.7 451.2 1284.7 364.3 1330 530.2 1242 456.5 1296.4 553.9 1270.4 366.9 1312.8 424.9 1303.4 382.7 1333.4 493.3 1337.9 353.8 1314.8 395.9 1300.8 461.7 1303.1 322.2 1299.2 340.6 1334.9 469.6 1320.1 348.5 1316 314.3 1309.6 445.9 1283 564.5 1280.7 493.3 1319.3 522.3 1294.7 569.7 1291.6 432.8 1245.8 480.2 1254.2 443.3 1306.2 477.5 1265.3 353.8 1281.7 564.5 1221.6 548.7 1201.9 493.3 1308.5 430.1 1289.6 490.7 1247.6 514.4 1258.6 393.3 1307.7 540.8 1316.1 403.8 1337.7 467 1266 353.8 1332.3 409.1 1308.4 569.7 1249.2 467 1297.8 459.1 1293.4 348.5 1340.8 556.6 1291.7 498.6 1296.8 361.7 1325.8 525 1273 290.6 1327.5 551.3 1321.3 561.8 1273.3 438 1289.1 569.7 1241.7 556.6 1308.1 287.9 1320.6 540.8 1287.6 569.7 1267.7 540.8 1297.6 480.2 1336.7 456.5 1313 569.7 1326.5 572.4 1229.4 464.4 1299.9 538.1 1308.8 456.5 1269.8 480.2 1264.4 490.7 1324.1 456.5 1265.6 438 1293.9 287.9 1292.8 366.9 1306.9 345.9 1272.8 519.7 1294.1 488.1 1241.5 556.6 1256 561.8 1313.2 467 1300.6 435.4 1280.4 327.4 1346.3 430.1 1299.2 345.9 1304.3 356.4 1287.7 482.8 1343 424.9 1277.5 398.5 1298.1 445.9 1272.2 527.6 1305.1 564.5 1310.7 561.8 1248.8 572.4 1255.3 569.7 1264.2 480.2 1300.9 564.5 1292 480.2 1285.6 356.4 1275.1 569.7 1235.4 432.8 1303 322.2 1329.5 485.4 1290.5 522.3 1301.3 569.7 1283.1 567.1 1230.2 469.6 1310.7 548.7 1313.4 561.8 1229.9 461.7 1288.4 456.5 1318.3 564.5 1264.9 488.1 1339.4 572.4 1302.2 488.1 1337.4 575 1299 496 1310.3 485.4 1339.2 438 1274.6 435.4 1337.5 424.9 1277.6 543.4 1243.1 567.1 1231.8 564.5 1304.8 517.1 1244.9 488.1 1301.1 522.3 1270.5 467 1268.9 340.6 1335.5 432.8 1283.3 451.2 1290 451.2 1272.5 551.3 1252.3 422.2 1313 419.6 1285.1 443.3 1301.2 548.7 1307.2 559.2 1239.3 564.5 1322 532.9 1229.3 464.4 1292 395.9 1316.8 498.6 1268.8" fill="none" stroke="none" marker-start="url(#m)" marker-mid="url(#m)" marker-end="url(#m)"/>
<path d="M196 942.12V1374.07M194.93 1373H596.87" stroke="#000" stroke-width="2.133" fill="none"/>
<path d="M288 1373v9.33M420 1373v9.33M551 1373v9.33M196 1299h-9.33M196 1217h-9.33M196 1135h-9.33M196 1053h-9.33M196 971h-9.33" stroke="#000" stroke-width="2.133" fill="none"/>
<text x="177.33" y="1309.28" text-anchor="end">1000</text>
<text x="177.33" y="1227.12" text-anchor="end">2000</text>
<text x="177.33" y="1144.96" text-anchor="end">3000</text>
<text x="177.33" y="1062.81" text-anchor="end">4000</text>
<text x="177.33" y="980.65" text-anchor="end">5000</text>
<text transform="translate(91.90 1159.62) rotate(-90)" text-anchor="middle">First_Flr_SF</text>
</g>
<g>
<path d="M719 1298.2 660.9 1312.4 792.4 1180.5 789.5 1183.3 737.8 1215.1 775.8 1266.3 711.7 1222.1 647 1255.6 707.5 1209.2 694.3 1229.2 647 1067.5 647 1260 837.3 1116.1 729.7 1284.6 738.6 1270.2 728.1 1211 763.6 1245.3 715.7 1301.5 775.2 1213.4 657.2 1280.3 660.9 1319.9 779 1198.9 711.4 1307.1 683 1247.7 664.6 1305.4 771.9 1200.6 668.4 1351.8 647 1345.9 694.6 1229.7 803.6 1165 797.8 1162.1 707.9 1310.4 647 1248 707.6 1310.1 691.7 1239.5 740 1143.2 676.8 1345.2 669.4 1278.7 699.4 1320.5 723.5 1289 720.3 1214.6 797.1 1174 657.8 1299.2 765.9 1182 772.4 1210.8 647 1236.1 699.4 1216.9 760 1194.4 779.2 1223 758.3 1253 702.2 1317 647 1264.5 678.3 1254.7 747.6 1263.7 721.7 1295.2 709.8 1305.8 691.2 1235.6 687.7 1255.7 701.7 1314.5 781.2 1195.9 669.3 1263.2 769.1 1212.8 748.9 1260.9 669.1 1347.1 647 1247.3 669.1 1346 724.3 1214.3 740.9 1233.8 765.9 1215.4 666 1345.6 756.2 1250.1 647 1331.2 748.4 1228.1 647 1324.7 831 1184 760 1217 785.6 1187.1 672.5 1299.3 647 1238.5 1010.4 995.9 735.4 1237.5 647 1353.9 658.1 1322.1 693.3 1251.3 698 1228.4 721.1 1294.1 805.2 1162.8 669.8 1344.1 679.1 1268.8 724.2 1209.8 647 1264.8 762.1 1234.1 698.5 1256.7 697 1243.3 755.9 1244.8 741.1 1266.7 767.9 1231.6 669.9 1284 775.1 1204.4 695.6 1239 757.3 1248.2 679.7 1260 774.7 1204.9 667.5 1292.3 647 1293 741 1259.7 733.1 1281.7 771.9 1208.6 691.4 1327.3 717.1 1296.7 676.7 1294.5 693.5 1266.3 736 1217.4 647 1340 719.1 1291.8 724.3 1240 699.8 1247.9 700.3 1242 744.9 1241.2 702.3 1237.9 750.5 1254.8 783.8 1187.4 647 1311.9 681.1 1284.8 765.3 1217.9 698.7 1253.6 680.8 1272 656.9 1346.7 647 1287.8 721.2 1282.7 754.1 1224 950 962.7 647 1299.9 678.5 1289 729.7 1212.2 707.9 1226.4 680.6 1288.6 668.1 1321.1 695.7 1266.8 728.5 1227.8 728.8 1243.9 686.2 1282.2 703 1272.8 686.3 1333.9 684.2 1278 692.4 1274.3 647 1318.7 704.6 1233.6 837.7 1247.5 667.2 1310.6 703.2 1252.4 678.3 1312.1 696 1320.2 647 1304.5 764.1 1218.3 647 1335.2 722.1 1248.7 647 1320 666.1 1326.8 751.7 1244.8 688.2 1324.7 757 1229.1 681.9 1333.4 656.6 1334.9 677.4 1316 697.9 1280.7 647 1245.8 734.1 1265.3 762.6 1221.6 705 1201.9 716.8 1258.6 647 1307.7 727.7 1253.9 726.2 1266 712.7 1249.2 685.4 1327.5 734.6 1260.1 716.5 1287.6 708.5 1253.5 679.6 1336.7 674.6 1326.5 711 1229.4 710.7 1264.4 677.4 1324.1 647 1265.6 703.6 1292.8 704.3 1306.9 696.3 1272.8 748.3 1241.5 714.7 1300.6 674 1346.3 689.1 1304.3 692.7 1287.7 674.8 1343 722.1 1277.5 676 1298.1 647 1272.2 682.8 1310.7 743 1248.8 738.2 1255.3 731.5 1264.2 711.8 1292 716.4 1285.6 706.2 1275.1 752.7 1235.4 697.4 1303 673.9 1329.5 710 1290.5 718 1283.1 710.3 1230.2 695.9 1310.7 721.1 1229.9 688.8 1288.4 692.4 1318.3 731.1 1264.9 669.9 1337.4 703.7 1299 698.7 1310.3 677.6 1339.2 647 1274.6 678.5 1337.5 647 1277.6 708 1243.1 713 1231.8 702.6 1304.8 739.6 1244.9 706.7 1301.1 728.3 1268.9 670.1 1335.5 647 1283.3 713.1 1290 725.8 1272.5 740.4 1252.3 696.5 1313 647 1285.1 704.1 1301.2 699.7 1307.2 709.5 1239.3 689.7 1322 757 1229.3 693.2 1292 681.5 1316.8 710.9 1268.8" fill="none" stroke="none" marker-start="url(#m)" marker-mid="url(#m)" marker-end="url(#m)"/>
<path d="M629 942.12V1374.07M627.93 1373H1029.67" stroke="#000" stroke-width="2.133" fill="none"/>
<path d="M647 1373v9.33M766 1373v9.33M885 1373v9.33M1004 1373v9.33M629 1299h-9.33M629 1217h-9.33M629 1135h-9.33M629 1053h-9.33M629 971h-9.33" stroke="#000" stroke-width="2.133" fill="none"/>
</g>
<g>
<g fill="#1f77b4" fill-opacity="0.75" stroke="#000" stroke-width="0.616"><rect x="1079.77" y="1372.45" width="6.16" height="1.00"/><rect x="1085.93" y="1358.25" width="6.16" height="15.20"/><rect x="1092.09" y="1341.35" width="6.16" height="32.10"/><rect x="1098.25" y="1333.25" width="6.16" height="40.20"/><rect x="1104.41" y="1285.35" width="6.16" height="88.10"/><rect x="1110.57" y="1222.25" width="6.16" height="151.20"/><rect x="1116.73" y="1184.15" width="6.16" height="189.30"/><rect x="1122.89" y="1197.25" width="6.16" height="176.20"/><rect x="1129.05" y="1190.15" width="6.16" height="183.30"/><rect x="1135.21" y="1233.25" width="6.16" height="140.20"/><rect x="1141.38" y="1231.35" width="6.16" height="142.10"/><rect x="1147.54" y="1264.25" width="6.16" height="109.20"/><rect x="1153.70" y="1285.35" width="6.16" height="88.10"/><rect x="1159.86" y="1306.35" width="6.16" height="67.10"/><rect x="1166.02" y="1283.25" width="6.16" height="90.20"/><rect x="1172.18" y="1293.35" width="6.16" height="80.10"/><rect x="1178.34" y="1306.15" width="6.16" height="67.30"/><rect x="1184.50" y="1337.35" width="6.16" height="36.10"/><rect x="1190.66" y="1338.35" width="6.16" height="35.10"/><rect x="1196.82" y="1362.35" width="6.16" height="11.10"/><rect x="1202.98" y="1360.35" width="6.16" height="13.10"/><rect x="1209.14" y="1362.15" width="6.16" height="11.30"/><rect x="1215.30" y="1368.35" width="6.16" height="5.10"/><rect x="1221.46" y="1368.35" width="6.16" height="5.10"/><rect x="1227.62" y="1371.05" width="6.16" height="2.40"/><rect x="1233.78" y="1369.45" width="6.16" height="4.00"/><rect x="1239.94" y="1370.25" width="6.16" height="3.20"/><rect x="1270.74" y="1371.85" width="6.16" height="1.60"/><rect x="1295.38" y="1372.65" width="6.16" height="0.80"/><rect x="1344.66" y="1372.65" width="6.16" height="0.80"/><rect x="1412.43" y="1372.65" width="6.16" height="0.80"/><rect x="1437.07" y="1372.65" width="6.16" height="0.80"/></g>
<path d="M1062 942.12V1374.07M1060.93 1373H1462.47" stroke="#000" stroke-width="2.133" fill="none"/>
<path d="M1207 1373v9.33M1360 1373v9.33M1062 1299h-9.33M1062 1217h-9.33M1062 1135h-9.33M1062 1053h-9.33M1062 971h-9.33" stroke="#000" stroke-width="2.133" fill="none"/>
</g>
<g>
<path d="M1564.4 1344.5 1631.7 1311 1657.1 1180.5 1796.2 1183.3 1700.5 1249.9 1680.6 1275.7 1682.9 1238.9 1751.3 1067.5 1674.6 1237.6 1693.3 1233.5 1710.7 1116.1 1664 1295.9 1657 1299.2 1628.2 1312.5 1714.2 1253.3 1614.1 1319.9 1651.2 1304.9 1641.7 1198.9 1660.9 1200.6 1537.6 1351.8 1543.7 1345.9 1741.1 1230.5 1700.5 1258.1 1670 1165 1672.4 1162.1 1627.3 1310.4 1678.8 1288.6 1728.9 1244.7 1688.1 1143.2 1662.5 1174 1680.3 1291 1655.8 1182 1669.9 1282.7 1603.9 1272.1 1677 1263.7 1673.8 1255.6 1645.5 1194.4 1700.7 1258.1 1633.9 1308.3 1587.1 1332.4 1644.7 1253 1670 1290.6 1738.1 1230.9 1647.7 1299.6 1592.6 1330.4 1613.7 1318.5 1565.7 1343.4 1631.9 1246.5 1632.6 1249.7 1664.4 1247.1 1573.5 1303.3 1640.1 1238.8 1644.3 1195.9 1678.2 1218.8 1699.8 1254 1679.6 1271.2 1637.6 1241.6 1679.6 1245.1 1556.2 1347.1 1720.7 1215.4 1656.2 1264.1 1519.5 1345.6 1587.8 1331.2 1604.1 1273.8 1639 1306.5 1615.6 1260.8 1654.2 1184 1622.2 1254.6 1675.4 1252.8 1603.6 1325.5 1660.9 1217 1617.4 1317.2 1651.6 1187.1 1702 1253.2 1876 995.9 1664.5 1252.8 1557.1 1322.9 1713.2 1241.7 1660.8 1269.3 1512.6 1353.9 1587.5 1290.4 1645.1 1248.9 1668.6 1287.9 1666.5 1262.2 1666.8 1230.4 1671.8 1162.8 1595 1328.7 1592.1 1283.6 1599.8 1325.6 1642.1 1305.7 1597.5 1278.2 1604.9 1273.4 1609.5 1268.8 1609 1318.1 1593.6 1328.6 1633.3 1307 1577.5 1298.4 1710.2 1204.4 1636.7 1204.9 1609.7 1266.5 1603.5 1322.4 1641 1275.8 1633.7 1208.6 1580.9 1336.5 1661.4 1254.9 1621.4 1315.8 1666 1293.8 1565.2 1312.9 1639.5 1264.6 1736.8 1256.6 1620.1 1260.3 1658.4 1238.3 1651.4 1187.4 1600.6 1281.4 1587 1329.9 1608 1317.7 1560.1 1346.7 1579.8 1303.5 1662.8 1257.6 1589.1 1290.5 1620.8 1224 1670.2 1273.2 1838.6 962.7 1600.5 1323.5 1630.7 1283.9 1659 1296.9 1581.2 1301 1630.7 1212.2 1674.6 1226.4 1596.2 1281.7 1574 1311.6 1566.9 1313.9 1530 1333 1627.6 1266.8 1565 1323.8 1628.6 1254.3 1617.6 1227.8 1536.1 1325.7 1618.6 1280.3 1660.3 1295.2 1636.4 1267.1 1559.7 1343.7 1646.6 1300 1540 1321 1549.5 1339.5 1661.5 1233.6 1616.5 1277.9 1571.6 1340.5 1630.3 1261.9 1641.2 1244.4 1590.3 1288.9 1533.8 1328.4 1623.7 1310.6 1632 1306.5 1613.2 1263.8 1649.4 1228.9 1609 1238.2 1574.3 1318.2 1625.6 1218.3 1590.2 1290.5 1645.5 1275.8 1651.2 1274.1 1612.8 1294.2 1617.9 1314.7 1565.2 1330 1637.5 1296.4 1664.9 1229.1 1581 1333.4 1593.9 1300.8 1629.2 1303.1 1528.4 1334.9 1540.7 1320.1 1624.3 1293.5 1613.9 1316 1616.6 1309.6 1655.6 1294.7 1598.4 1291.6 1636.8 1245.8 1599.1 1300.6 1598.1 1281.7 1622.8 1221.6 1639.3 1201.9 1581.1 1308.5 1602.6 1316.1 1611.3 1291.3 1556.5 1332.3 1550.5 1308.4 1642.7 1249.2 1619.9 1293.4 1563.8 1340.8 1649.4 1291.7 1595.1 1327.5 1600.3 1321.3 1658.5 1273.3 1624.7 1308.1 1577.4 1320.6 1590.7 1260.1 1621.3 1287.6 1620.2 1267.7 1596.2 1253.5 1579.1 1336.7 1587.7 1326.5 1616.3 1229.4 1632.3 1299.9 1605.8 1308.8 1613.7 1269.8 1559 1324.1 1602.6 1293.9 1600 1306.9 1615.2 1272.8 1600.9 1294.1 1594.2 1256 1595.6 1313.2 1554.8 1346.3 1596.8 1287.7 1559.9 1343 1559 1298.1 1553.2 1305.1 1561.7 1295 1596.2 1310.7 1600.2 1248.8 1594.8 1255.3 1587.3 1264.2 1648.2 1285.6 1653.5 1235.4 1555 1303 1532.9 1329.5 1661.4 1290.5 1612.8 1283.1 1615.6 1230.2 1588.7 1313.4 1650.2 1229.9 1542.3 1318.3 1586.8 1264.9 1574.7 1339.4 1641.5 1302.2 1570 1337.4 1646.5 1299 1548.9 1310.3 1571.9 1339.2 1572 1337.5 1576.1 1277.6 1649.6 1243.1 1614.4 1231.8 1583.5 1304.8 1603.4 1244.9 1560.5 1335.5 1571.4 1283.3 1565.8 1290 1580.4 1272.5 1631.7 1252.3 1580.5 1313 1569.9 1285.1 1556.5 1301.2 1597.7 1307.2 1608.1 1239.3 1578.6 1322 1728.3 1229.3 1564.2 1292 1543.5 1316.8 1583.5 1268.8" fill="none" stroke="none" marker-start="url(#m)" marker-mid="url(#m)" marker-end="url(#m)"/>
<path d="M1494 942.12V1374.07M1492.93 1373H1895.27" stroke="#000" stroke-width="2.133" fill="none"/>
<path d="M1627 1373v9.33M1764 1373v9.33M1494 1299h-9.33M1494 1217h-9.33M1494 1135h-9.33M1494 1053h-9.33M1494 971h-9.33" stroke="#000" stroke-width="2.133" fill="none"/>
</g>
<g>
<path d="M1998.4 1344.5 2159.3 1254.5 2206.1 1180.5 2308.8 1183.3 1995.4 1255.6 1980.5 1263.6 2149.5 1257.7 2231.9 1238.9 2080.3 1067.5 1998 1260 2045.7 1210.8 2152.5 1116.1 2167.4 1213.4 2048.2 1195.6 2204.6 1253.3 2068.1 1198.9 2138.1 1214 1945.4 1313 2188.2 1200.6 2063.1 1205.8 2027.6 1335.4 1945.5 1321.1 1968.8 1351.8 1961.4 1345.9 2112.1 1215.5 2170.6 1165 2242.3 1162.1 1981.2 1248 1964.6 1336.4 2100.1 1275.3 2083 1286.8 2081.5 1143.2 1994.2 1345.2 2122.5 1214.6 2130.1 1174 2102.6 1205.8 2096 1316.8 2058.2 1182 1964.9 1331.6 2211 1210.8 1997.1 1236.1 2091.3 1307 2052.5 1216.9 2053.2 1194.4 2022.5 1234.6 2147.2 1223 1988.7 1265.7 1965.2 1316.4 2132.5 1232.3 2098.2 1290.6 2003.6 1236 2249.3 1230.9 2025.7 1330.4 1999.2 1264.5 2004.8 1254.7 2120.6 1249.6 2059.4 1314.4 2028.1 1231.3 2024.7 1235.6 2066 1210.4 2097.8 1195.9 2020.6 1240.9 2129.3 1218.8 2127.6 1254 2103.4 1212.8 2078.3 1314.3 2116.8 1230.9 1960.7 1325.2 2146.4 1235.3 1977.6 1347.1 2170.5 1219.7 1997.2 1247.3 2105.7 1247.2 2028.4 1214.3 2040.5 1323.6 2136 1235.1 1994.8 1272.7 2105 1249.5 2205.6 1215.4 1966.1 1345.6 2114.5 1230.7 1965.8 1309.9 2058.9 1228.1 2145.6 1245.3 2214.5 1184 2125.6 1254.6 2118.2 1252.8 2043 1228.6 2057.9 1228.7 2033.6 1325.5 2105.3 1217 2045.7 1317.2 2242.6 1187.1 2002 1267.2 2148.7 1261.6 1969.5 1326.3 2011.9 1238.5 2147.9 1244.6 2018.4 995.9 2075.2 1301.9 2046.1 1311.8 2172.3 1241.7 2094.9 1269.3 1958.5 1353.9 1973.5 1312.7 2112.9 1262.2 2069.8 1292.5 2095.5 1256.1 2106.4 1298.3 2103.8 1236.9 2244.8 1162.8 2096.4 1305.7 2106.8 1209.8 2006.7 1264.8 2076.4 1318.1 2110.5 1231.6 2094.4 1276.4 2130.8 1204.4 2032.8 1323.8 2038.3 1204.9 2085.3 1251.4 2077.8 1231.4 2109.2 1260.5 2084.7 1250.8 2118.8 1208.6 2130 1221.1 2080.9 1230.1 2068.6 1246.2 2090 1240.8 2000.9 1342.3 2075.4 1310.8 2109.9 1254.9 2091.6 1217.4 2037.4 1311.7 2078.7 1283.3 2071.2 1264.6 2018.4 1242 2061.8 1255 2041.8 1237.9 2174.8 1256.6 2142.4 1260.3 2080.5 1254.8 1968.6 1298.7 2087.9 1187.4 2034.5 1318.6 2080 1252 2020.7 1329.9 2073.7 1217.9 2024 1253.6 1967.7 1291.6 1986.1 1346.7 2051 1303.6 2119.4 1257.6 1979.2 1287.8 2038.8 1224 2030.3 962.7 2046.9 1237.2 2030.4 1237.4 2098.5 1283.9 2100.6 1296.9 2079.4 1212.2 2016.3 1328.2 1970.1 1306.9 2064.5 1226.4 1978.6 1305.6 2067.8 1227.8 2060.6 1309.4 2055.2 1295.2 2023.9 1243.9 2061.9 1267.1 1997.2 1343.7 2097.6 1282.1 2066.8 1278 1996.3 1274.3 2029.6 1258 2068.8 1291 2000 1277.9 2080 1247.5 1991.6 1340.5 2078.4 1261.9 2056.5 1244.4 1974 1296.5 2009.8 1252.4 1999.6 1338 2082.8 1263.8 2077 1228.9 2051.2 1249.1 2084.5 1238.2 2015.1 1332.2 1975 1315 2155.2 1218.3 2086.8 1246 2108.8 1255.9 2017.1 1279.9 2033.6 1248.7 2091.9 1274.1 1989.9 1326.8 1978.7 1302 2089 1244.8 2084.1 1242 2070.3 1270.4 2137 1229.1 2005.9 1337.9 1983.5 1320.1 1994 1283 2047.8 1291.6 2007.8 1245.8 2043.8 1300.6 2030 1265.3 2124.9 1221.6 2086.4 1201.9 2072.7 1247.6 2029.8 1258.6 1988.5 1307.7 2070.8 1291.3 2045.6 1253.9 1989.4 1337.7 2023.9 1266 2128.1 1249.2 2035.1 1293.4 2055.4 1291.7 2044.2 1273 1980.7 1327.5 2028.9 1321.3 2075.6 1273.3 2128.7 1241.7 2064.4 1308.1 2057.5 1260.1 2033.9 1287.6 2051.7 1267.7 2035.7 1253.5 2003.8 1336.7 1980.4 1313 2013.3 1326.5 2093.5 1229.4 2032.4 1308.8 2026.8 1269.8 2018.9 1264.4 2001.2 1324.1 2008 1265.6 2030.5 1293.9 1988.4 1292.8 2041.1 1306.9 2027.6 1272.8 2029.9 1294.1 2050.9 1241.5 2040.9 1256 2012.7 1313.2 1983.6 1280.4 1979.8 1346.3 2015 1287.7 1978.1 1343 2045.3 1277.5 1991.3 1298.1 2003.1 1272.2 2008.7 1305.1 2023.8 1310.7 2096.9 1248.8 2101.8 1255.3 2052.7 1264.2 2032.7 1285.6 2009 1275.1 2116 1235.4 2004.1 1303 1965.5 1329.5 2022.9 1290.5 2024.3 1301.3 2057.6 1283.1 2107.4 1230.2 1990.7 1310.7 2028.1 1313.4 2103 1229.9 2020.4 1288.4 1997.1 1318.3 2055.5 1264.9 2014.8 1339.4 2106.1 1302.2 1995.7 1337.4 2082.4 1299 1992 1310.3 1985 1339.2 2004.2 1274.6 1977.4 1337.5 1980.3 1277.6 2053.5 1243.1 2064.6 1231.8 2029.6 1304.8 2047.7 1244.9 2008.2 1301.1 2025.4 1270.5 2018.9 1268.9 2007.4 1335.5 1982.9 1283.3 2002.9 1290 2032.6 1272.5 2143.4 1252.3 2003.3 1313 1994.6 1285.1 2010.4 1301.2 2026 1307.2 2059.1 1239.3 2016.5 1322 2229.2 1229.3 2010.5 1292 1976 1316.8 2006.8 1268.8" fill="none" stroke="none" marker-start="url(#m)" marker-mid="url(#m)" marker-end="url(#m)"/>
<path d="M1927 942.12V1374.07M1925.93 1373H2328.07" stroke="#000" stroke-width="2.133" fill="none"/>
<path d="M1939 1373v9.33M2063 1373v9.33M2187 1373v9.33M2311 1373v9.33M1927 1299h-9.33M1927 1217h-9.33M1927 1135h-9.33M1927 1053h-9.33M1927 971h-9.33" stroke="#000" stroke-width="2.133" fill="none"/>
</g>
<g>
<path d="M559.2 1765 577.6 1699.7 385.4 1708.7 382.7 1715.7 335.3 1672.2 540.8 1501.6 309 1703.5 472.3 1639.2 409.1 1604.6 293.2 1769.7 385.4 1695.9 451.2 1674.2 311.6 1700.8 390.6 1658 540.8 1626 567.1 1623.5 575 1735.2 443.3 1549.9 477.5 1632.5 435.4 1678.5 461.7 1612.4 530.2 1593.6 506.5 1752.4 314.3 1657.6 353.8 1689.4 340.6 1679 232.6 1651.4 575 1739.3 364.3 1675.3 427.5 1664.8 522.3 1643.3 485.4 1780.7 493.3 1773.3 532.9 1634.8 248.4 1729.1 538.1 1589.8 261.6 1730.3 482.8 1645.9 214.2 1657.7 401.2 1789.2 519.7 1643.4 572.4 1754.5 327.4 1727.4 419.6 1708.6 287.9 1775.6 511.8 1751.6 572.4 1647.2 422.2 1674 311.6 1777 287.9 1773.4 575 1745.3 575 1698.6 380.1 1560.8 411.7 1677 503.9 1657.2 411.7 1780.1 261.6 1723.4 340.6 1604.6 459.1 1779.8 248.4 1663.5 409.1 1682.5 398.5 1694.6 335.3 1676.5 287.9 1740.9 556.6 1628 235.2 1574 467 1690.2 517.1 1700.8 490.7 1617.9 527.6 1654.1 314.3 1742.2 572.4 1746.8 501.2 1645.4 364.3 1788.6 575 1701.7 361.7 1657.8 322.2 1692.1 340.6 1626.3 322.2 1726.9 235.2 1669.3 577.6 1720.5 287.9 1713.3 430.1 1652.7 353.8 1637.5 330.1 1785.7 575 1686.5 525 1663.9 519.7 1672 366.9 1786.9 316.9 1727.4 361.7 1691.5 372.2 1777.2 553.9 1633.3 406.4 1694 440.7 1663.8 525 1670 380.1 1604.3 322.2 1671.8 451.2 1681.1 519.7 1701.9 572.4 1637.4 287.9 1658.3 535.5 1564.2 393.3 1687.3 501.2 1770.5 222.1 1756.1 372.2 1698 427.5 1692.6 314.3 1707.5 575 1716.7 461.7 1664.9 519.7 1691.1 519.7 1674.4 340.6 1739.5 343.2 1735.6 438 1779.2 474.9 1781.3 448.6 1774.1 422.2 1696.8 435.4 1643.5 372.2 1748.2 366.9 1739.4 464.4 1780.3 430.1 1783.5 327.4 1774.4 372.2 1770.6 477.5 1690.8 309 1764.2 372.2 1733.6 572.4 1701.2 525 1770.3 316.9 1725.4 382.7 1746.6 548.7 1760.5 567.1 1765.6 406.4 1780.5 567.1 1628.6 546 1605.4 345.9 1735.3 301.1 1723 369.6 1756.9 340.6 1694.2 314.3 1739.2 340.6 1730.2 443.3 1689.7 353.8 1699.8 511.8 1672.3 293.2 1701.5 388 1781 314.3 1650.9 488.1 1778.8 314.3 1714.4 559.2 1627.1 527.6 1693.1 287.9 1709.5 506.5 1654.6 572.4 1746.1 314.3 1778.9 525 1643.6 390.6 1722.3 440.7 1767.5 361.7 1680.2 327.4 1686.4 314.3 1711.4 364.3 1667.3 319.5 1773.9 567.1 1582.8 314.3 1769.8 353.8 1799.4 561.8 1758.9 353.8 1735.3 498.6 1670.7 424.9 1780.6 572.4 1654.4 559.2 1631.6 503.9 1694.4 353.8 1696.5 453.8 1653.4 385.4 1774.1 353.8 1708.9 332.7 1709.8 451.2 1688.5 443.3 1647.2 390.6 1694 480.2 1774.7 575 1657.2 327.4 1761.9 377.5 1782 382.7 1754.3 314.3 1734 335.3 1603 572.4 1415.7 261.6 1643.3 577.6 1675 327.4 1745.1 390.6 1654.6 559.2 1590.9 393.3 1789.3 411.7 1707.1 287.9 1723.1 409.1 1806.8 382.7 1769.2 385.4 1754 356.4 1676.6 430.1 1702 556.6 1664.2 459.1 1638.9 430.1 1769.9 506.5 1747.7 393.3 1768.8 480.2 1681.2 459.1 1722.7 548.7 1752.7 348.5 1705.9 438 1640.9 559.2 1635.4 393.3 1710.9 501.2 1766.5 343.2 1704.9 517.1 1746.9 532.9 1667.4 477.5 1777.7 319.5 1765.6 388 1738.4 456.5 1710.4 314.3 1783.3 469.6 1722.4 472.3 1725.5 359 1692.9 411.7 1732.2 514.4 1742.8 314.3 1747.9 411.7 1699.9 469.6 1699.4 514.4 1709.5 340.6 1712.5 445.9 1708.9 409.1 1719.6 477.5 1767.8 540.8 1676.9 395.9 1753.9 559.2 1741.1 445.9 1694.4 398.5 1681.2 335.3 1779.4 572.4 1689 525 1594.2 316.9 1723 424.9 1729.2 509.2 1715.1 546 1740.6 543.4 1676.1 572.4 1712 382.7 1724.6 353.8 1672.2 448.6 1725.7 340.6 1719.7 522.3 1695.9 480.2 1678.9 314.3 1726.2 369.6 1707.5 567.1 1751.1 419.6 1673.2 445.9 1767.5 459.1 1668.7 395.9 1709 377.5 1668.6 398.5 1725.9 403.8 1655.8 498.6 1722.3 493.3 1673.9 374.8 1725.3 498.6 1707.1 395.9 1757.7 564.5 1676.5 369.6 1714.2 488.1 1771 380.1 1725.9 496 1724.4 435.4 1710.3 501.2 1679.1 393.3 1729.2 496 1705.4 340.6 1695 501.2 1734.1 287.9 1734.9 532.9 1751.9 498.6 1687.1 409.1 1689.7 327.4 1721.2 377.5 1690.7 340.6 1770.2 569.7 1641.7 353.8 1743.4 390.6 1763 240.5 1703.5 356.4 1742.1 327.4 1739.6 474.9 1694.3 569.7 1670.2 445.9 1706.4 266.8 1565.6 477.5 1766.5 419.6 1715.3 496 1649.9 535.5 1764 274.7 1757.3 498.6 1657.5 435.4 1694 398.5 1742 319.5 1749.5 301.1 1711.1 485.4 1718.4 364.3 1712.1 538.1 1744.7 564.5 1747.9 514.4 1682.5 345.9 1751 406.4 1779.3 477.5 1765.5 561.8 1683.9 538.1 1645.2 438 1690.3 540.8 1756.7 543.4 1637.2 340.6 1778.4 448.6 1696 398.5 1754.1 543.4 1729.7 393.3 1677.5 435.4 1713.7 572.4 1456 359 1768.2 532.9 1687.8 359 1787.9 490.7 1675.6 440.7 1764.6 572.4 1713.9 530.2 1702.2 316.9 1675.3 496 1702.3 572.4 1679.7 553.9 1649.2 572.4 1733.3 403.8 1771 569.7 1746.8 327.4 1742.8 287.9 1764.7 374.8 1767.3 540.8 1632.5 464.4 1741.8 348.5 1716.8 525 1740.7 432.8 1763.6 287.9 1748.3 390.6 1692 398.5 1788.1 287.9 1728.4 406.4 1736 514.4 1732 498.6 1683 567.1 1750.4 327.4 1695.8 445.9 1726.5 427.5 1776.4 569.7 1681.9 340.6 1766.7 353.8 1781.5 543.4 1696.9 527.6 1727.2 543.4 1647.9 477.5 1708.1 485.4 1673.5 374.8 1658.6 464.4 1710.3 517.1 1734 575 1723.9 532.9 1662.6 451.2 1777.3 540.8 1696.8 348.5 1727.9 330.1 1659.4 477.5 1720.8 477.5 1709.6 488.1 1767 361.7 1772.2 409.1 1694.9 472.3 1740.2 340.6 1725.6 548.7 1736.8 538.1 1680.2 532.9 1718.3 564.5 1759.1 438 1721.3 451.2 1668.4 572.4 1740.9 459.1 1756.5 314.3 1755.3 359 1784 540.8 1747.5 422.2 1773.7 482.8 1687.2 443.3 1715.8 527.6 1678.3 332.7 1759.7 417 1755.5 556.6 1698.6 430.1 1726.8 548.7 1703 374.8 1769.3 559.2 1738.5 461.7 1756.6 453.8 1732.4 543.4 1722 406.4 1749.8 422.2 1771.9 564.5 1685.2 406.4 1760.3 340.6 1723.3 509.2 1744.8 359 1750.9 314.3 1772 406.4 1746.3 472.3 1707.7 353.8 1723.2 530.2 1740.4 482.8 1748.5 474.9 1670.3 467 1749.5 482.8 1763.8 443.3 1712.4 490.7 1663.8 414.3 1776.4 572.4 1657.6 364.3 1754.2 314.3 1760.3 490.7 1709 488.1 1693.2 319.5 1710.3 511.8 1719.4 459.1 1693.4 364.3 1750.1 530.2 1706.5 456.5 1672.4 453.8 1750.7 553.9 1731.9 567.1 1642.9 366.9 1717.4 424.9 1761.5 382.7 1733.1 493.3 1742.5 353.8 1771.7 395.9 1719.3 461.7 1681.3 322.2 1757.7 340.6 1789.8 469.6 1776.5 569.7 1686.5 348.5 1697.7 314.3 1694.9 564.5 1741.2 493.3 1714.7 522.3 1652.9 432.8 1673.1 469.6 1754.7 480.2 1717.4 443.3 1764 477.5 1727.3 353.8 1714.8 564.5 1688.2 548.7 1670.5 493.3 1733.1 474.9 1757.6 490.7 1711.5 514.4 1721.4 393.3 1765.4 540.8 1709.9 543.4 1700.6 403.8 1743.8 467 1728 353.8 1759.5 409.1 1766 569.7 1666.8 467 1756.5 459.1 1691.3 348.5 1751.7 556.6 1659.6 498.6 1755.6 361.7 1734.2 525 1734.3 290.6 1718 551.3 1712.4 561.8 1649.8 438 1748.7 569.7 1706.2 556.6 1686.2 287.9 1737.1 540.8 1689.8 569.7 1691 540.8 1756.3 480.2 1735.2 456.5 1770.2 572.4 1695.2 464.4 1678 538.1 1706.5 456.5 1698 480.2 1726.5 490.7 1756.9 456.5 1727.6 438 1709.9 287.9 1752.1 366.9 1712.8 345.9 1696.4 519.7 1711.7 488.1 1706 467 1759 327.4 1761.4 430.1 1757.8 345.9 1762.3 356.4 1716.1 398.5 1756.8 445.9 1733.6 527.6 1763.1 482.8 1754 564.5 1716.8 561.8 1712.6 572.4 1718.4 569.7 1726.4 480.2 1759.3 564.5 1751.3 480.2 1660.8 356.4 1736.2 569.7 1655.2 432.8 1761.1 322.2 1785 485.4 1646.6 522.3 1759.6 569.7 1699 567.1 1695.9 469.6 1768.1 548.7 1724.9 561.8 1658.7 461.7 1748.1 456.5 1774.9 564.5 1727 488.1 1739.9 572.4 1668.1 488.1 1745 575 1662.7 496 1767.7 485.4 1743 438 1735.7 435.4 1742.9 424.9 1738.4 543.4 1659.4 567.1 1697.3 564.5 1730.5 517.1 1709.1 488.1 1759.4 522.3 1732 467 1730.6 340.6 1755.2 432.8 1743.5 451.2 1749.5 451.2 1733.8 551.3 1678.6 422.2 1733.7 419.6 1745.1 443.3 1759.5 548.7 1715.2 559.2 1704.1 564.5 1735.8 532.9 1574.6 464.4 1751.3 395.9 1773.5 498.6 1730.5" fill="none" stroke="none" marker-start="url(#m)" marker-mid="url(#m)" marker-end="url(#m)"/>
<path d="M196 1395.05V1827.07M194.93 1826H596.87" stroke="#000" stroke-width="2.133" fill="none"/>
<path d="M288 1826v9.33M420 1826v9.33M551 1826v9.33M196 1758h-9.33M196 1684h-9.33M196 1610h-9.33M196 1537h-9.33M196 1463h-9.33" stroke="#000" stroke-width="2.133" fill="none"/>
<text x="177.33" y="1767.85" text-anchor="end">1000</text>
<text x="177.33" y="1694.16" text-anchor="end">2000</text>
<text x="177.33" y="1620.47" text-anchor="end">3000</text>
<text x="177.33" y="1546.78" text-anchor="end">4000</text>
<text x="177.33" y="1473.09" text-anchor="end">5000</text>
<text transform="translate(91.90 1612.55) rotate(-90)" text-anchor="middle">Gr_Liv_Area</text>
</g>
<g>
<path d="M690 1781.3 708.7 1766.3 758.8 1714.3 660.9 1769.6 792.4 1651.3 789.5 1501.6 647 1681.5 775.8 1728.3 666 1716.5 647 1718.6 741.6 1604.6 716.3 1757.9 684.4 1626 750.1 1623.5 647 1549.9 748.1 1632.5 647 1722.6 751.1 1612.4 837.3 1593.6 663 1722.7 738.6 1731.7 763.6 1709.4 775.2 1680.8 781.5 1664.8 686.2 1634.8 657.2 1740.8 739.7 1589.8 660.9 1697.5 779 1667.8 748.8 1676 709.5 1765.1 664.6 1763.3 771.9 1647.2 756.2 1560.8 724.3 1604.6 803.6 1637.4 797.8 1634.8 678.7 1682.9 647 1711.9 662.4 1740.9 734 1574 700.6 1773.8 740 1617.9 729.8 1742.9 797.1 1645.4 657.8 1691.4 700.5 1626.3 647 1669.3 765.9 1652.7 702.2 1629.9 748.6 1633.3 760 1663.8 675.3 1693.6 779.2 1689.4 712.4 1604.3 647 1676.3 758.3 1664.6 686.2 1653.8 761.8 1564.2 732.6 1732.1 744.5 1678.4 743.4 1676.6 747.6 1725.9 743.9 1643.5 658.5 1781.9 671 1778.1 666.2 1739.4 709.8 1763.7 667.9 1728.1 749.9 1669.6 781.2 1665.1 669.3 1725.4 764.5 1628.6 736.2 1605.4 726.6 1627.1 769.1 1680.3 647 1781 695.3 1650.9 723.2 1627.1 748.9 1723.4 732.6 1660.3 669.1 1759.8 730.3 1649.9 765.9 1582.8 666 1799.4 756.2 1713.7 647 1725.9 686.6 1670.7 647 1780.6 831 1654.4 742.7 1688.8 740.2 1631.6 735.5 1688.5 760 1647.2 785.6 1657.2 736.8 1603 647 1703.3 742.7 1662.4 1010.4 1415.7 700.5 1643.3 735.4 1702.4 745.1 1590.9 678.3 1789.3 647 1806.8 658.1 1778.3 742.9 1664.2 714.6 1638.9 647 1769.9 728.4 1641.2 721.1 1753.2 755.2 1640.9 728.4 1740.5 805.2 1635.4 676.3 1710.9 728 1737.1 679.1 1702.5 647 1699.9 762.1 1699.4 755.9 1708.9 741.1 1728.6 767.9 1697.1 775.1 1594.2 757.3 1712 774.7 1673.2 741 1722.3 771.9 1676.5 756.7 1695.8 676.7 1647.6 738.5 1646.7 736 1684.4 702.1 1641.7 668.8 1742.1 731.8 1670.2 744.9 1705.8 712.8 1565.6 734.7 1691.1 750.5 1718 750.4 1649.9 647 1774.2 783.8 1657.5 647 1711.1 765.3 1684.8 656.9 1755.7 732 1645.2 721.2 1743 676.5 1689.8 754.1 1690.3 725.7 1637.2 950 1456 647 1758.4 751.4 1702.2 692.5 1675.3 695.6 1679.7 669.7 1742.8 707.9 1632.5 668.4 1716.5 668.1 1730.8 682.1 1788.1 732.1 1681.9 676.7 1781.5 702 1647.9 728.8 1708.1 728.7 1673.5 686.2 1658.6 697.4 1658.8 699.8 1662.6 690.9 1777.3 684.2 1659.4 647 1709.6 674.2 1767 704.6 1646.5 647 1694.9 837.7 1711.4 719.8 1680.2 685.2 1784 667.2 1687.2 683.3 1706.1 672.8 1739.3 732 1698.6 757.5 1659.6 750.6 1703 678.3 1769.3 647 1762.6 764.1 1685.2 647 1750.9 744.4 1670.3 722.1 1712.4 647 1776.4 724.4 1657.6 666.1 1754.2 751.7 1709 685.6 1693.2 716.7 1744.8 708.6 1672.4 757 1642.9 698.1 1681.3 656.6 1789.8 690.9 1776.5 698.1 1686.5 677.4 1697.7 696.7 1694.9 710.1 1652.9 647 1673.1 734.1 1727.3 715.3 1714.8 762.6 1688.2 713.4 1749.2 716.8 1721.4 647 1765.4 694 1709.9 727.7 1717.2 726.2 1728 712.7 1666.8 713.2 1691.3 684.4 1734.2 685.4 1718 690.3 1712.4 725.2 1649.8 694.1 1748.7 688.5 1686.2 734.6 1722.7 716.5 1689.8 729 1691 708.5 1716.8 679.6 1735.2 674.6 1726 711 1695.2 706 1678 698.3 1706.5 727.6 1698 710.7 1726.5 647 1727.6 703.6 1752.1 704.3 1712.8 696.3 1696.4 710.2 1711.7 748.3 1706 714.7 1759 674 1761.4 689.1 1762.3 692.7 1716.1 722.1 1738.3 676 1756.8 647 1733.6 702.2 1763.1 709.5 1754 682.8 1716.8 743 1712.6 738.2 1718.4 731.5 1726.4 711.8 1751.3 716.4 1660.8 706.2 1736.2 752.7 1655.2 697.4 1761.1 673.9 1785 710 1646.6 718 1699 710.3 1695.9 695.9 1768.1 696.6 1724.9 721.1 1658.7 688.8 1748.1 692.4 1774.9 731.1 1727 677.5 1739.9 704.1 1668.1 669.9 1745 703.7 1662.7 698.7 1767.7 677.6 1743 647 1735.7 678.5 1742.9 647 1738.4 708 1659.4 713 1697.3 702.6 1730.5 739.6 1709.1 706.7 1759.4 728.3 1730.6 670.1 1755.2 647 1743.5 713.1 1749.5 725.8 1733.8 740.4 1678.6 696.5 1733.7 647 1745.1 704.1 1759.5 699.7 1715.2 709.5 1704.1 689.7 1735.8 757 1574.6 693.2 1751.3 681.5 1773.5 710.9 1730.5" fill="none" stroke="none" marker-start="url(#m)" marker-mid="url(#m)" marker-end="url(#m)"/>
<path d="M629 1395.05V1827.07M627.93 1826H1029.67" stroke="#000" stroke-width="2.133" fill="none"/>
<path d="M647 1826v9.33M766 1826v9.33M885 1826v9.33M1004 1826v9.33M629 1758h-9.33M629 1684h-9.33M629 1610h-9.33M629 1537h-9.33M629 1463h-9.33" stroke="#000" stroke-width="2.133" fill="none"/>
</g>
<g>
<path d="M1119.6 1678.6 1240.9 1651.3 1238.3 1501.6 1176.4 1604.6 1152.5 1626 1186.6 1623.5 1345.9 1549.9 1187.9 1632.5 1191.7 1612.4 1300.7 1593.6 1133.6 1643.9 1130.6 1651.4 1118.2 1682.4 1173.3 1589.8 1111.4 1697.5 1125.3 1657.7 1222.2 1647.2 1154.4 1710.4 1081.8 1779.9 1087.2 1773.4 1194.4 1560.8 1168.8 1604.6 1255.3 1637.4 1258 1634.8 1120.2 1683.4 1140.4 1628 1181.2 1574 1275.5 1617.9 1247 1645.4 1138.2 1626.3 1239.5 1652.7 1145.9 1637.5 1155.8 1708.5 1163.5 1629.9 1171.1 1633.3 1227.9 1663.8 1168.8 1604.3 1122.1 1676.3 1099.7 1726.6 1173.5 1664.6 1138.6 1637.4 1160.7 1653.8 1194.1 1564.2 1130.2 1661.4 1101.6 1720.7 1112.7 1698 1089.6 1749.6 1179.6 1678.4 1176.6 1677.7 1179 1643.5 1153.2 1710.5 1126.8 1741.3 1186.7 1669.6 1226.6 1665.1 1205.3 1628.6 1172.6 1605.4 1156.6 1627.1 1184.2 1672.3 1180.9 1627.1 1086.1 1759.8 1209.5 1681.6 1208.5 1582.8 1163.2 1652.3 1087.5 1799.4 1100.8 1725.9 1180.6 1655.1 1123.8 1670.7 1166.3 1695.9 1237.6 1654.4 1172 1688.8 1173.7 1631.6 1106.1 1708.9 1207 1647.2 1113.9 1694 1234.7 1657.2 1173.4 1603 1412.5 1415.7 1173.7 1643.3 1132.9 1733.5 1108.6 1758.9 1184.1 1590.9 1158.4 1647.3 1079.8 1806.8 1138.8 1726.2 1177.4 1664.2 1141.1 1638.9 1165 1641.2 1173.3 1681.2 1194.5 1640.9 1257.3 1635.4 1103.2 1718.1 1145.1 1721.2 1106.1 1712.9 1124.6 1667.4 1150.1 1715.5 1154.6 1707.4 1158.9 1702.5 1113 1703.1 1103.3 1719.6 1123.3 1676.9 1131.3 1736.9 1218.7 1594.2 1218.2 1673.2 1161 1702.3 1109.1 1709 1146.9 1707.1 1214.8 1676.5 1090.6 1749.1 1095.9 1733.3 1171.8 1646.7 1115.2 1689.7 1135.6 1641.7 1117.9 1750.1 1162.7 1670.2 1170.2 1565.6 1166.7 1691.1 1187.1 1649.9 1234.5 1657.5 1147.2 1712.1 1102.1 1726.8 1206.2 1684.8 1113.4 1704.1 1086.5 1755.7 1126.6 1734.5 1169.3 1645.2 1138.6 1724.4 1200.5 1690.3 1154.7 1637.2 1443.2 1456 1108 1712.2 1143.1 1675.6 1144.8 1679.7 1132.8 1649.2 1129 1733 1211.5 1679.7 1198.2 1632.5 1146.8 1716.8 1119.1 1740.7 1116.9 1748.3 1160.7 1683 1107.7 1750.4 1172.3 1681.9 1196.9 1693.8 1106 1781.5 1148.2 1692.7 1134.3 1647.9 1160.4 1673.5 1089.2 1756.1 1129.8 1662.6 1110.3 1777.3 1112.4 1709.6 1093.1 1767 1191.6 1646.5 1150.4 1694.9 1092.2 1743.2 1165.3 1680.2 1181.6 1668.4 1140.2 1723.2 1103.4 1784 1120 1687.2 1123.8 1678.3 1163.5 1698.6 1195.9 1659.6 1187.3 1703 1113 1740.4 1205.7 1685.2 1138.7 1723.3 1152.4 1663.8 1153.9 1657.6 1135.2 1699 1116.2 1693.4 1101.9 1750.1 1133.2 1672.4 1195.8 1642.9 1098.8 1733.1 1129.1 1719.3 1126.9 1681.3 1097.4 1789.8 1111.2 1776.5 1135.9 1686.5 1115 1697.7 1120.9 1694.9 1134.8 1652.9 1180.2 1673.1 1129.3 1713.7 1146.9 1714.8 1202.7 1688.2 1221 1670.5 1121.9 1733.1 1114.9 1709.9 1138 1700.6 1099.8 1759.5 1122 1766 1177 1666.8 1136 1691.3 1092 1751.7 1137.6 1659.6 1104.3 1718 1110.1 1712.4 1154.7 1649.8 1122.3 1686.2 1110.7 1737.1 1166.9 1722.7 1141.4 1689.8 1159.9 1691 1173.1 1716.8 1095.7 1735.2 1117.7 1770.2 1105.3 1726 1195.4 1695.2 1129.9 1678 1121.7 1706.5 1157.9 1698 1107.5 1756.9 1135.5 1709.9 1123.4 1712.8 1155.1 1696.4 1135.4 1711.7 1170.7 1719 1117.5 1717.5 1148 1740.9 1086.8 1761.4 1141.3 1716.1 1089.9 1755.9 1131.6 1756.8 1125.1 1763.1 1134.5 1754 1119.9 1716.8 1177.4 1712.6 1171.4 1718.4 1163.1 1726.4 1143.3 1660.8 1189.9 1655.2 1127.1 1761.1 1102.4 1785 1138.7 1646.6 1145.5 1699 1194.7 1695.9 1119.9 1768.1 1117.4 1724.9 1195 1658.7 1112.9 1774.9 1162.5 1727 1093.3 1739.9 1127.8 1668.1 1095.1 1745 1130.8 1662.7 1120.3 1767.7 1093.4 1743 1153.5 1735.7 1095 1742.9 1150.6 1738.4 1182.7 1659.4 1193.3 1697.3 1125.4 1730.5 1181 1709.1 1096.8 1755.2 1145.4 1743.5 1139.1 1749.5 1155.4 1733.8 1174.2 1678.6 1117.8 1733.7 1143.7 1745.1 1128.8 1759.5 1123.1 1715.2 1186.2 1704.1 1109.4 1735.8 1195.5 1574.6 1137.3 1751.3 1114.3 1773.5 1158.8 1730.5" fill="none" stroke="none" marker-start="url(#m)" marker-mid="url(#m)" marker-end="url(#m)"/>
<path d="M1062 1395.05V1827.07M1060.93 1826H1462.47" stroke="#000" stroke-width="2.133" fill="none"/>
<path d="M1207 1826v9.33M1360 1826v9.33M1062 1758h-9.33M1062 1684h-9.33M1062 1610h-9.33M1062 1537h-9.33M1062 1463h-9.33" stroke="#000" stroke-width="2.133" fill="none"/>
</g>
<g>
<g fill="#1f77b4" fill-opacity="0.75" stroke="#000" stroke-width="0.661"><rect x="1512.57" y="1825.58" width="6.61" height="0.80"/><rect x="1519.18" y="1825.38" width="6.61" height="1.00"/><rect x="1525.79" y="1822.88" width="6.61" height="3.50"/><rect x="1532.40" y="1810.48" width="6.61" height="15.90"/><rect x="1539.01" y="1786.48" width="6.61" height="39.90"/><rect x="1545.61" y="1716.08" width="6.61" height="110.30"/><rect x="1552.22" y="1712.98" width="6.61" height="113.40"/><rect x="1558.83" y="1676.98" width="6.61" height="149.40"/><rect x="1565.44" y="1703.88" width="6.61" height="122.50"/><rect x="1572.05" y="1692.88" width="6.61" height="133.50"/><rect x="1578.66" y="1676.98" width="6.61" height="149.40"/><rect x="1585.26" y="1675.98" width="6.61" height="150.40"/><rect x="1591.87" y="1680.08" width="6.61" height="146.30"/><rect x="1598.48" y="1674.78" width="6.61" height="151.60"/><rect x="1605.09" y="1724.78" width="6.61" height="101.60"/><rect x="1611.70" y="1731.88" width="6.61" height="94.50"/><rect x="1618.30" y="1767.88" width="6.61" height="58.50"/><rect x="1624.91" y="1773.88" width="6.61" height="52.50"/><rect x="1631.52" y="1788.98" width="6.61" height="37.40"/><rect x="1638.13" y="1795.98" width="6.61" height="30.40"/><rect x="1644.74" y="1802.08" width="6.61" height="24.30"/><rect x="1651.35" y="1805.18" width="6.61" height="21.20"/><rect x="1657.95" y="1802.98" width="6.61" height="23.40"/><rect x="1664.56" y="1809.88" width="6.61" height="16.50"/><rect x="1671.17" y="1816.98" width="6.61" height="9.40"/><rect x="1677.78" y="1813.88" width="6.61" height="12.50"/><rect x="1684.39" y="1824.18" width="6.61" height="2.20"/><rect x="1691.00" y="1824.18" width="6.61" height="2.20"/><rect x="1697.60" y="1822.88" width="6.61" height="3.50"/><rect x="1704.21" y="1825.58" width="6.61" height="0.80"/><rect x="1710.82" y="1825.58" width="6.61" height="0.80"/><rect x="1724.04" y="1824.78" width="6.61" height="1.60"/><rect x="1730.65" y="1825.58" width="6.61" height="0.80"/><rect x="1737.25" y="1824.78" width="6.61" height="1.60"/><rect x="1750.47" y="1825.58" width="6.61" height="0.80"/><rect x="1790.12" y="1825.58" width="6.61" height="0.80"/><rect x="1836.38" y="1825.58" width="6.61" height="0.80"/><rect x="1869.42" y="1825.58" width="6.61" height="0.80"/></g>
<path d="M1494 1395.05V1827.07M1492.93 1826H1895.27" stroke="#000" stroke-width="2.133" fill="none"/>
<path d="M1627 1826v9.33M1764 1826v9.33M1494 1758h-9.33M1494 1684h-9.33M1494 1610h-9.33M1494 1537h-9.33M1494 1463h-9.33" stroke="#000" stroke-width="2.133" fill="none"/>
</g>
<g>
<path d="M2159.3 1679.1 2206.1 1651.3 2038.2 1750.8 2308.8 1501.6 1971.8 1723.5 1972.8 1703.5 2135.1 1707.2 2045.4 1639.2 1980.5 1725.8 2063.1 1604.6 1966.4 1754.2 2149.5 1650 2006.6 1658 2070.6 1626 2231.9 1623.5 2121.8 1719.7 2080.3 1549.9 2125.2 1612.4 2152.5 1593.6 2167.4 1680.8 2204.6 1589.8 1992.2 1697.5 1999.6 1657.7 1967.4 1750.4 2144.9 1676 1945.4 1770.1 2012.2 1778.8 2188.2 1647.2 1945.5 1777.4 1961.4 1773.4 2145 1560.8 2001.7 1679.7 2053.2 1604.6 2170.6 1637.4 1998.6 1663.5 2242.3 1634.8 1981.2 1711.9 1964.6 1740.9 2015 1775.2 2060.1 1628 2085.5 1574 2081.5 1617.9 2043.8 1747.3 2056.1 1746.8 2122.5 1681.9 1988.6 1788.6 2008.8 1781.1 2033.3 1626.3 1967 1768.8 1993.6 1669.3 2041.4 1748.8 2038.3 1637.5 2140.2 1645.5 1964.9 1786.9 2211 1678.5 2107.8 1668.3 2081.9 1629.9 2147.2 1689.4 2088.9 1604.3 1999.5 1676.3 2126.8 1646.4 1965.2 1773.2 2132.5 1697.7 2098.2 1637.4 2003.6 1658.3 2010.6 1653.8 2249.3 1564.2 1990.6 1687.3 2120.6 1713.3 2133.4 1677.7 2044.7 1742.3 2066.4 1646.8 2088.4 1719.6 1992.1 1783.5 2111.3 1701 2007.3 1780.5 2129.3 1628.6 2127.6 1605.4 2072.5 1627.1 2051.8 1741.7 2116.8 1696.5 2038.4 1745.4 1960.7 1781 2044.4 1650.9 2105.4 1627.1 2146.4 1700.4 2170.5 1686.5 2105.7 1711.1 2059 1738 2076.8 1643.6 2136 1649.9 1999.4 1667.3 2205.6 1582.8 1966.1 1799.4 2114.5 1696.4 1965.8 1732.5 2029.4 1758.9 2145.6 1655.1 2025.7 1670.7 2214.5 1654.4 2125.6 1688.8 2118.2 1631.6 2105.3 1647.2 2242.6 1657.2 2148.7 1683.3 1969.5 1782 2066.1 1603 2066.3 1733.1 2147.9 1662.4 2018.4 1415.7 2018.4 1643.3 2172.3 1590.9 1979.3 1789.3 2094.9 1647.3 1958.5 1806.8 2040.6 1638.9 2112.9 1641.2 2098 1715.4 2106.4 1682.6 2103.8 1701.9 2084.9 1640.9 2244.8 1635.4 1992.7 1704.9 2096.4 1667.4 2005.9 1777.7 2106.8 1677.6 2110.5 1697.1 1999.2 1779.4 2094.4 1689 2130.8 1594.2 2027.2 1672.2 1990.4 1707.5 2030.2 1668.7 2085.3 1714.9 2109.2 1723.1 2084.7 1714.4 2043 1655.8 2118.8 1676.5 1985.6 1714.2 2007.5 1771 2130 1687.7 2080.9 1695.8 2032.5 1647.6 2109.9 1646.7 2091.6 1684.4 2005.5 1770.2 2055.9 1641.7 2071.2 1670.2 2174.8 1565.6 2142.4 1691.1 2054.8 1741.4 2080.5 1718 1968.6 1757.3 2039.1 1741.2 1994.7 1711.1 2080 1715.5 2034.9 1747.9 2073.7 1684.8 2059.8 1731.3 1967.7 1751 2014.5 1704.1 2119.4 1645.2 2025.6 1689.8 2065.7 1637.2 2030.3 1456 2083.2 1731.3 2024.6 1675.6 2042.4 1675.3 2098.5 1679.7 2100.6 1649.2 2079.4 1679.7 2016.1 1771 1970.1 1764.7 2007.2 1767.3 2064.5 1632.5 1978.5 1788.1 1979.5 1736 2041 1687.7 2054.3 1681.9 2067.8 1693.8 1989.8 1781.5 2045.5 1692.7 2055.2 1647.9 2061.9 1673.5 2030.6 1658.6 2097.6 1658.8 2024.9 1755.5 1980.9 1727.9 2066.8 1659.4 1996.3 1735.4 1998.9 1709.6 2086.1 1646.5 2068.8 1716.7 2000 1694.9 2080 1711.4 2078.4 1680.2 2024.5 1759.1 2056.5 1668.4 2033.5 1740.9 1974 1755.3 1977.5 1784 2027.3 1747.5 1998.4 1773.7 2009 1687.2 2025.7 1678.3 2026.2 1706.1 2082.8 1698.6 2077 1659.6 2051.2 1712.9 2084.5 1703 1975 1771.9 2155.2 1685.2 2086.8 1710.1 2108.8 1718.9 2023.6 1754.7 1994.2 1723.2 2049.2 1670.3 2007.9 1763.8 2033.4 1663.8 1988.2 1776.4 2091.9 1657.6 2044.3 1699 1978.7 1760.3 2089 1709 2006.4 1693.2 2004.9 1710.3 2009.6 1693.4 1977.3 1750.1 2084.1 1706.5 2012.4 1672.4 2070.3 1731.9 2137 1642.9 2002.6 1733.1 2021 1771.7 1992.3 1719.3 2012.9 1681.3 1975.8 1789.8 1983.5 1776.5 2026.8 1686.5 2002.4 1697.7 2003.2 1694.9 1994 1743.3 2031 1741.2 2036.7 1652.9 2047.8 1714.4 2007.8 1673.1 2006.5 1714.8 2124.9 1688.2 2086.4 1670.5 2072.7 1711.5 2013.9 1709.9 2070.8 1700.6 1989.4 1743.8 2128.1 1666.8 2035.1 1691.3 2055.4 1659.6 2044.2 1734.3 1980.7 1718 2075.6 1649.8 2128.7 1706.2 2064.4 1686.2 2057.5 1722.7 2033.9 1689.8 2051.7 1691 1980.4 1770.2 2093.5 1695.2 2009.9 1678 2032.4 1706.5 2026.8 1698 2008 1727.6 2030.5 1709.9 2041.1 1712.8 2027.6 1696.4 2029.9 1711.7 2050.9 1706 2040.9 1719 2012.7 1717.5 1979.8 1761.4 2015 1716.1 1978.1 1755.9 2045.3 1738.3 1991.3 1756.8 2003.1 1733.6 2008.7 1763.1 2023.8 1716.8 2096.9 1712.6 2101.8 1718.4 2052.7 1726.4 2021.1 1751.3 2032.7 1660.8 2116 1655.2 2004.1 1761.1 1965.5 1785 2022.9 1646.6 2024.3 1759.6 2057.6 1699 2107.4 1695.9 1990.7 1768.1 2028.1 1724.9 2103 1658.7 2020.4 1748.1 1997.1 1774.9 2055.5 1727 2014.8 1739.9 2106.1 1668.1 2082.4 1662.7 1992 1767.7 1985 1743 2004.2 1735.7 1977.4 1742.9 1980.3 1738.4 2053.5 1659.4 2064.6 1697.3 2029.6 1730.5 2047.7 1709.1 2008.2 1759.4 2025.4 1732 2018.9 1730.6 2007.4 1755.2 1982.9 1743.5 2002.9 1749.5 2032.6 1733.8 2143.4 1678.6 2003.3 1733.7 1994.6 1745.1 2010.4 1759.5 2026 1715.2 2059.1 1704.1 2016.5 1735.8 2229.2 1574.6 2010.5 1751.3 1976 1773.5 2006.8 1730.5" fill="none" stroke="none" marker-start="url(#m)" marker-mid="url(#m)" marker-end="url(#m)"/>
<path d="M1927 1395.05V1827.07M1925.93 1826H2328.07" stroke="#000" stroke-width="2.133" fill="none"/>
<path d="M1939 1826v9.33M2063 1826v9.33M2187 1826v9.33M2311 1826v9.33M1927 1758h-9.33M1927 1684h-9.33M1927 1610h-9.33M1927 1537h-9.33M1927 1463h-9.33" stroke="#000" stroke-width="2.133" fill="none"/>
</g>
<g>
<path d="M559.2 2205.3 577.6 2148.7 385.4 2170.2 435.4 2109.4 335.3 2154.2 353.8 2152.1 556.6 2029.5 556.6 1979.2 409.1 2235.4 540.8 1868.6 522.3 2137.7 309 2230.3 575 2088.8 409.1 2133 293.2 2234.4 348.5 2237.1 477.5 2127.8 556.6 2040.1 311.6 2193.3 567.1 1951.4 525 2195.7 569.7 2069.8 443.3 2114.5 477.5 2081.8 461.7 2066.3 477.5 2143 530.2 2036.9 543.4 2091.9 314.3 2149.7 232.6 2168.3 575 2163.6 364.3 2142.7 567.1 2020.8 427.5 2149.1 522.3 2104.8 485.4 2223.8 248.4 2201.9 538.1 1980.8 261.6 2176 214.2 2201.4 480.2 2127.7 348.5 2259.8 311.6 2223.5 419.6 2113.7 511.8 2208.1 572.4 1998.4 330.1 2154.8 314.3 2182.3 422.2 2133 311.6 2196.1 406.4 2230.8 398.5 2234.1 424.9 2259.6 287.9 2242.5 575 2183.2 575 2060.3 380.1 2044.9 261.6 2194.9 575 2139.5 340.6 2143.7 567.1 2017.4 248.4 2202.5 569.7 1940.2 287.9 2239.1 324.8 2160.6 235.2 2109 490.7 2113.3 546 2084.2 506.5 2140.3 572.4 2140.6 501.2 2060.9 569.7 2074.4 575 2117.8 361.7 2154.1 398.5 2168 340.6 2165.1 538.1 2063.8 314.3 2236.4 235.2 2207.8 577.6 2176.1 430.1 2138.4 551.3 2200.3 330.1 2236.8 575 2155.6 506.5 2150.1 366.9 2238.7 564.5 1973.8 509.2 2205.5 553.9 2076.9 496 2134.6 332.7 2171.3 572.4 2042.6 380.1 2105.3 340.6 2166 403.8 2156.3 390.6 2238.4 493.3 2218.9 287.9 2187 332.7 2227.6 535.5 1932.7 222.1 2216.4 575 2114.6 461.7 2147.2 459.1 2155.4 340.6 2167.9 287.9 2179.4 548.7 2071.2 525 2121.4 519.7 2142.4 559.2 2057.4 406.4 2225 556.6 2196.8 464.4 2160.2 448.6 2229.2 519.7 2143.8 435.4 2150.3 480.2 2130.8 372.2 2220.3 388 2232.2 372.2 2177.4 366.9 2172.2 464.4 2229.7 575 2130.1 535.5 2125.5 498.6 2151.8 327.4 2228.1 372.2 2186.4 309 2208.6 572.4 2138.6 440.7 2150.5 525 2195.2 338 2167.1 311.6 2160.1 556.6 2196 488.1 2095.7 382.7 2223.6 546 2063.6 493.3 2089.7 301.1 2203.3 522.3 2141 456.5 2137.1 572.4 2119 353.8 2161.4 293.2 2187.6 388 2243.2 314.3 2153.2 443.3 2219.2 559.2 2087.6 548.7 2101.7 427.5 2169.2 287.9 2180.1 506.5 2097.2 419.6 2176.6 564.5 2043.4 324.8 2225.1 564.5 2017.5 403.8 2152.5 525 2118.3 395.9 2170.4 440.7 2219.1 561.8 2054.6 445.9 2154.1 361.7 2184.6 327.4 2179.9 567.1 1979.7 548.7 2193 314.3 2220.8 353.8 2237.4 530.2 2133.2 359 2237.8 424.9 2231.1 453.8 2151.3 572.4 1970.1 559.2 2073.8 503.9 2154.7 485.4 2138.7 453.8 2162.2 353.8 2164.8 332.7 2197.7 548.7 2187.4 451.2 2144.4 443.3 2087.6 390.6 2151.7 575 1939.8 535.5 2041 377.5 2233.8 314.3 2188.8 335.3 2129.8 569.7 2041.8 477.5 2158 572.4 2181.1 261.6 2181.1 577.6 2133.6 382.7 2206.9 390.6 2099.4 564.5 2202.2 559.2 2015.5 409.1 2245.6 382.7 2203 359 2182.3 385.4 2223.1 356.4 2166.5 430.1 2134.9 459.1 2157.2 430.1 2229.5 564.5 2079.5 506.5 2203.1 393.3 2211.4 553.9 2098.1 414.3 2162.3 348.5 2152.6 438 2109.6 559.2 1937.5 532.9 2097.2 538.1 2106.9 388 2170.9 427.5 2177 314.3 2232.8 359 2171.3 411.7 2177.2 440.7 2141.8 561.8 2086.1 287.9 2202.8 469.6 2115.1 514.4 2197.7 395.9 2179.3 569.7 2193.9 398.5 2179.2 525 2060.3 316.9 2184.2 353.8 2171.7 535.5 2204.4 522.3 2145 314.3 2165.7 419.6 2159.7 564.5 2196.6 569.7 2135.6 569.7 2126.6 403.8 2193 493.3 2136.9 377.5 2149.3 403.8 2154.7 498.6 2169 374.8 2188.8 564.5 2073.1 369.6 2216.5 564.5 2061.1 380.1 2185.2 435.4 2127.1 501.2 2122 548.7 2185.2 496 2104.1 340.6 2175.9 498.6 2161.9 409.1 2175.8 327.4 2215.7 377.5 2167.1 390.6 2226.2 240.5 2176.8 327.4 2201.3 474.9 2164.3 569.7 2124.3 266.8 2012.8 569.7 2047.7 569.7 2114.4 496 2111.2 535.5 2193.8 274.7 2234.8 485.4 2158.8 419.6 2227.3 498.6 2106.3 319.5 2176.8 301.1 2206.7 490.7 2163.8 364.3 2166.7 514.4 2155.2 345.9 2235.8 572.4 2172.9 314.3 2215.9 538.1 2072.5 438 2159.2 398.5 2201.3 498.6 2178 393.3 2181.7 419.6 2189.5 564.5 2190.2 572.4 2168.4 532.9 2150.2 359 2228.6 440.7 2232.5 530.2 2150.5 456.5 2182.2 316.9 2155.3 496 2168.3 553.9 2092.8 569.7 2192.4 443.3 2187.4 403.8 2183.7 327.4 2183.4 287.9 2233.1 374.8 2193.3 540.8 2131.6 551.3 2183.1 348.5 2185.8 525 2193.1 287.9 2221.1 390.6 2190.6 398.5 2224.1 287.9 2211.4 406.4 2223 514.4 2178 498.6 2139.9 567.1 2221.2 327.4 2159.1 445.9 2171.8 427.5 2208.7 340.6 2210.7 564.5 2128 543.4 2135.8 430.1 2189.9 543.4 2141.6 435.4 2182.5 485.4 2134.3 374.8 2168 517.1 2180.9 411.7 2174.1 575 2156.6 316.9 2209.7 451.2 2216.8 540.8 2158.6 348.5 2221.5 330.1 2129 440.7 2205 461.7 2210.6 488.1 2220.1 548.7 2178.5 538.1 2116.6 532.9 2166 451.2 2140.1 572.4 2164.9 569.7 2164.3 314.3 2228.9 359 2225.2 540.8 2171.6 527.6 2173.3 332.7 2217.9 482.8 2201.4 556.6 2111.9 430.1 2179.5 551.3 2145.9 548.7 2110 374.8 2207.7 559.2 2184.7 543.4 2144 477.5 2217.7 422.2 2227.8 564.5 2034 406.4 2199.4 340.6 2194.6 509.2 2184.9 567.1 2107.6 564.5 2083.8 359 2210.6 314.3 2205 406.4 2184.5 556.6 2155 353.8 2207.2 530.2 2182.6 496 2202.2 474.9 2148 443.3 2164.8 490.7 2165 414.3 2213.6 572.4 2102 364.3 2211.8 314.3 2223.9 490.7 2105.1 319.5 2195.7 511.8 2194.7 364.3 2225.4 530.2 2110.5 456.5 2187.6 553.9 2125.3 567.1 2053.6 366.9 2193.1 382.7 2198.1 353.8 2178.3 322.2 2202.3 340.6 2227 469.6 2218.7 569.7 2172.1 314.3 2197.5 445.9 2207.5 564.5 2167.6 493.3 2172.8 522.3 2161.5 569.7 2149.5 432.8 2192.6 467 2168.1 469.6 2200 480.2 2153.8 443.3 2198.4 477.5 2168.7 564.5 2066.5 548.7 2107.9 490.7 2122.7 514.4 2168.9 403.8 2213.4 393.3 2209.1 540.8 2186 543.4 2124.8 564.5 2151.9 403.8 2212.4 467 2175.3 353.8 2197.1 409.1 2210.2 569.7 2063.1 467 2196.8 459.1 2163.2 348.5 2218.9 556.6 2141.4 498.6 2186.1 361.7 2197.4 525 2153.4 290.6 2221.8 561.8 2119.6 438 2190.1 569.7 2062.5 556.6 2131.7 287.9 2194 540.8 2164.5 569.7 2145.3 561.8 2162.5 540.8 2191.4 480.2 2196.9 456.5 2222 569.7 2186.7 572.4 2100.3 538.1 2166.1 456.5 2172.1 480.2 2180.7 456.5 2192.4 438 2168.2 287.9 2213.5 366.9 2156.8 345.9 2171.2 519.7 2168.7 488.1 2146.2 556.6 2156.9 561.8 2187.3 467 2194.1 435.4 2218.6 327.4 2222.7 430.1 2199.6 345.9 2205.4 356.4 2184.8 482.8 2224.6 424.9 2152.2 398.5 2210.4 445.9 2197.6 527.6 2191.6 482.8 2184.7 564.5 2175.3 561.8 2096.7 572.4 2091.4 569.7 2144.2 480.2 2188.9 564.5 2178.3 480.2 2165.7 356.4 2191.3 569.7 2076.1 432.8 2196.5 322.2 2238.1 485.4 2176.3 522.3 2174.8 569.7 2139 567.1 2085.3 469.6 2211 548.7 2170.7 561.8 2090.1 461.7 2179 456.5 2204.1 564.5 2141.2 488.1 2185 572.4 2086.8 488.1 2205.6 575 2112.3 496 2209.6 485.4 2217.1 438 2196.5 435.4 2225.3 424.9 2222.2 543.4 2143.4 567.1 2131.4 564.5 2169.1 517.1 2149.6 488.1 2192.1 522.3 2173.6 467 2180.6 340.6 2193 432.8 2219.4 451.2 2197.8 451.2 2165.9 551.3 2046.7 422.2 2197.5 419.6 2206.8 443.3 2189.7 548.7 2173 559.2 2137.3 564.5 2183.2 532.9 1954.3 464.4 2189.6 395.9 2226.8 498.6 2193.7" fill="none" stroke="none" marker-start="url(#m)" marker-mid="url(#m)" marker-end="url(#m)"/>
<path d="M196 1847.98V2280.07M194.93 2279H596.87" stroke="#000" stroke-width="2.133" fill="none"/>
<path d="M288 2279v9.33M420 2279v9.33M551 2279v9.33M196 2267h-9.33M196 2160h-9.33M196 2053h-9.33M196 1946h-9.33" stroke="#000" stroke-width="2.133" fill="none"/>
<text x="287.92" y="2318.21" text-anchor="middle">1900</text>
<text x="419.60" y="2318.21" text-anchor="middle">1950</text>
<text x="551.29" y="2318.21" text-anchor="middle">2000</text>
<text x="395.90" y="2354.91" text-anchor="middle">Year_Built</text>
<text x="177.33" y="2276.68" text-anchor="end">0</text>
<text x="177.33" y="2169.85" text-anchor="end">200000</text>
<text x="177.33" y="2063.01" text-anchor="end">400000</text>
<text x="177.33" y="1956.17" text-anchor="end">600000</text>
<text transform="translate(59.10 2066.88) rotate(-90)" text-anchor="middle">Sale_Price</text>
</g>
<g>
<path d="M739.1 2029.5 792.4 1979.2 789.5 1868.6 647 2177.3 775.8 2207.8 760 2108.9 691.5 2237.1 734 2040.1 684.4 2125 750.1 1951.4 647 2114.5 770.5 2151.7 717.9 2210.9 711 2221.3 837.3 2036.9 728.1 2056.5 775.2 2020.8 781.5 2149.1 686.2 2119.5 657.2 2193.8 739.7 1980.8 720.9 2201.7 779 2127.7 767.9 2052.4 647 2184 687.3 2259.8 664.6 2197 771.9 1998.4 774 2133 647 2259.6 764.3 2060.3 756.2 2044.9 803.6 2017.4 797.8 1940.2 662.4 2239.1 669.4 2167.3 720.3 2069.2 797.1 2060.9 657.8 2170.4 774 2090.5 692 2097.7 773.5 2063.8 697.7 2236.4 765.9 2138.4 689.4 2145.4 742.4 2050 682.4 2238.7 772.4 1973.8 760 2143.7 747.4 2185.3 779.2 2042.6 681 2160.9 676.5 2238.4 705.4 2058.4 721.9 2197.1 761.8 1932.7 710.7 2218.1 707 2057.4 750.1 2178.9 658.5 2232.2 666.2 2172.2 770.8 2130 687.7 2126.7 781.2 2095.7 736.2 2063.6 769.1 2089.7 695.4 2116.7 759.3 2107.2 647 2243.2 753 2043.4 763.8 2017.5 669.1 2222.5 710.8 2210.8 730.3 2054.6 717.5 2201.6 765.9 1979.7 666 2237.4 756.2 2133.2 647 2237.8 745.7 2044.2 831 1970.1 742.7 2065.8 740.2 2073.8 757.5 2154.7 757.3 2138.7 760 2087.6 785.6 1939.8 733.6 2041 688.9 2153.6 647 2188.2 742.7 2041.8 744.1 2167.7 1010.4 2181.1 745.1 2015.5 756.2 2088.3 647 2245.6 741.5 2183.6 658.1 2202 751.3 2134.9 728.4 2079.5 751.6 2089.2 805.2 1937.5 745.5 2141.8 679.1 2132.3 673.6 2224.7 724.2 2086.1 762.1 2115.1 692.6 2118.8 755.9 2166.7 741.1 2179 767.9 2082 775.1 2060.3 729.8 2193.1 757.3 2101.5 712.4 2208.7 682.5 2165.7 774.7 2159.7 667.5 2196.6 701.7 2109.1 741 2169 692.3 2125.7 733.1 2185.8 771.9 2073.1 740.5 2133.3 763.1 2061.1 756.7 2113.9 749.7 2127.1 676.7 2166 697.7 2119.8 738.5 2082.7 736 2102.4 717.7 2116.2 712.8 2012.8 734.7 2047.7 677.6 2234.8 736.8 2177.5 647 2227.3 783.8 2106.3 712.5 2204.2 765.3 2121.7 690.6 2235.8 656.9 2215.9 732 2072.5 676.5 2173.5 754.1 2159.2 950 2168.4 682 2228.6 751.4 2150.5 692.5 2155.3 695.6 2095 709.2 2203.9 647 2233.1 700 2162.2 707.9 2131.6 668.4 2177 695.7 2139.9 728.5 2128 699.1 2135.8 702 2141.6 728.7 2134.3 686.2 2168 697.4 2096 725.6 2194.3 702.8 2156.6 684.2 2129 736 2169.1 647 2200.9 837.7 2114.9 719.8 2116.6 738.3 2166 708.5 2228.9 667.2 2191.3 683.3 2172.7 708 2203.7 732 2111.9 731.2 2179.5 757.5 2118.1 750.6 2110 713.2 2200.6 695 2227.8 764.1 2034 744.3 2107.6 731.9 2083.8 739.1 2155 724.4 2102 705.4 2153.3 666.1 2211.8 704.7 2223.9 751.7 2105.1 716.7 2191.3 684 2225.4 747.8 2110.5 727.5 2125.3 757 2053.6 656.6 2227 688.9 2149.5 705.7 2153.9 734.1 2168.7 715.3 2193.9 762.6 2066.5 705 2107.9 713.4 2198.9 743.7 2122.7 647 2213.4 712.2 2124.8 712.7 2063.1 675.2 2218.9 685.4 2221.8 690.3 2169.9 725.2 2119.6 748 2062.5 688.5 2131.7 734.6 2139.1 708.5 2162.5 679.6 2196.9 695.9 2222 674.6 2186.7 711 2100.3 698.3 2166.1 727.6 2172.1 677.4 2199.7 647 2192.4 703.6 2213.5 704.3 2156.8 710.2 2168.7 748.3 2146.2 737.5 2156.9 714.7 2194.1 647 2218.6 674 2222.7 706.7 2199.6 689.1 2205.4 674.8 2224.6 722.1 2152.2 676 2210.4 709.5 2184.7 682.8 2175.3 743 2096.7 738.2 2091.4 731.5 2144.2 711.8 2178.3 716.4 2165.7 752.7 2076.1 673.9 2238.1 710 2176.3 704.9 2174.8 718 2139 710.3 2085.3 695.9 2211 696.6 2170.7 721.1 2090.1 688.8 2179 692.4 2204.1 731.1 2141.2 677.5 2185 704.1 2086.8 669.9 2205.6 703.7 2112.3 698.7 2209.6 677.6 2217.1 647 2196.5 678.5 2225.3 647 2222.2 708 2143.4 713 2131.4 702.6 2169.1 739.6 2149.6 727 2173.6 728.3 2180.6 670.1 2193 647 2219.4 713.1 2197.8 725.8 2165.9 740.4 2046.7 696.5 2197.5 647 2206.8 704.1 2189.7 699.7 2173 709.5 2137.3 689.7 2183.2 757 1954.3 693.2 2189.6 681.5 2226.8 710.9 2193.7" fill="none" stroke="none" marker-start="url(#m)" marker-mid="url(#m)" marker-end="url(#m)"/>
<path d="M629 1847.98V2280.07M627.93 2279H1029.67" stroke="#000" stroke-width="2.133" fill="none"/>
<path d="M647 2279v9.33M766 2279v9.33M885 2279v9.33M1004 2279v9.33M629 2267h-9.33M629 2160h-9.33M629 2053h-9.33M629 1946h-9.33" stroke="#000" stroke-width="2.133" fill="none"/>
<text x="646.97" y="2318.21" text-anchor="middle">0</text>
<text x="765.94" y="2318.21" text-anchor="middle">2000</text>
<text x="884.91" y="2318.21" text-anchor="middle">4000</text>
<text x="1003.88" y="2318.21" text-anchor="middle">6000</text>
<text x="828.70" y="2354.91" text-anchor="middle">Total_Bsmt_SF</text>
</g>
<g>
<path d="M1088.5 2202.6 1172.1 2029.5 1240.9 1979.2 1238.3 1868.6 1171.1 2205.9 1163.7 2221.9 1169.2 2040.1 1186.6 1951.4 1170 2069.8 1345.9 2114.5 1167.1 2203.1 1212.8 2151.7 1300.7 2036.9 1141.7 2101 1210.3 2020.8 1226.9 2149.1 1173.3 1980.8 1223.7 2127.7 1209.8 2052.4 1117.8 2259.8 1222.2 1998.4 1217.3 2133 1097 2171.3 1110.2 2259.6 1081.8 2234.5 1087.2 2242.5 1208.3 2080.3 1255.3 2017.4 1258 1940.2 1178.1 2221.2 1096.1 2239.1 1152.8 2093.2 1142.1 2111.6 1275.5 2113.3 1087.8 2207.2 1209.2 2069.2 1247 2060.9 1093.7 2192.1 1217.4 2090.5 1114.2 2097.7 1239.5 2138.4 1100.5 2238.7 1212.8 1973.8 1189.3 2204.1 1123.4 2102.7 1207 2144.5 1227.9 2143.7 1190.6 2176.8 1201.4 2042.6 1161.7 2213.2 1114.6 2238.4 1192.8 2058.4 1150.7 2112.6 1138.6 2095.2 1189.3 2197.1 1194.1 1932.7 1101.6 2173.3 1162.9 2201.9 1172 2195.8 1176.6 2057.4 1116.5 2137 1193.7 2170.7 1189.7 2174.4 1213.1 2130 1226.6 2095.7 1184.7 2178.8 1153.1 2209.1 1205.3 2061.8 1172.6 2063.6 1210.9 2089.7 1116.5 2116.7 1194 2075.3 1106.5 2243.2 1190 2043.4 1086.1 2225.1 1204.4 2017.5 1178.8 2204 1179 2087.2 1209.5 2170.4 1108 2157.4 1190.2 2054.6 1155.2 2206.6 1176.8 2087.9 1208.5 1979.7 1087.5 2237.4 1194.2 2077.8 1120.7 2237.8 1196.7 2137.6 1180.6 2044.2 1237.6 1970.1 1172 2065.8 1173.7 2073.8 1196.2 2154.7 1196.1 2138.7 1106.1 2164.8 1207 2087.6 1113.9 2151.7 1234.7 1939.8 1160.3 2198.8 1165.5 2041 1105.4 2233.8 1187 2188.2 1181.3 2041.8 1412.5 2181.1 1128.1 2120 1118.9 2151.4 1184.1 2015.5 1158.4 2098.9 1079.8 2245.6 1118 2229.5 1165 2079.5 1136.8 2125.9 1170.7 2098.1 1131.4 2086.4 1188.5 2089.2 1257.3 1937.5 1106.1 2174 1124.6 2097.2 1104.2 2232.8 1088.9 2210.1 1213.7 2086.1 1162.6 2193.7 1113 2118.8 1193.4 2082 1151.8 2099.3 1218.7 2060.3 1107.7 2165.7 1218.2 2159.7 1175 2109.1 1193.6 2117.3 1166.5 2083.5 1175.5 2109.8 1214.8 2073.1 1203.2 2061.1 1194.8 2113.9 1184.9 2104.1 1090.6 2200 1119.8 2119.8 1171.8 2082.7 1206.6 2102.4 1119 2160.8 1185.6 2143.6 1145.4 2116.2 1162.7 2124.3 1183.8 2181.2 1171.6 2134.5 1187.6 2155.9 1170.2 2012.8 1166.7 2047.7 1131.1 2234.8 1234.5 2106.3 1112.6 2163.8 1102.1 2178.7 1206.2 2121.7 1172.9 2175.1 1137.6 2235.8 1086.5 2215.9 1126.5 2146.1 1169.3 2072.5 1094.4 2195 1141.2 2223.4 1200.5 2159.2 1443.2 2168.4 1158 2111.4 1188.2 2150.5 1188.1 2168.3 1144.8 2095 1132.8 2092.8 1211.5 2115.5 1103.7 2183.4 1123.4 2233.1 1198.2 2131.6 1196.9 2128 1121.1 2135.8 1134.3 2141.6 1182 2175.2 1160.4 2134.3 1089.2 2203.9 1146.5 2096 1150.3 2129 1153.8 2205 1168.9 2169.1 1191.6 2108.3 1138.2 2126.9 1150.4 2200.9 1092.2 2210 1165.3 2116.6 1181.6 2140.1 1133.1 2228.9 1174 2190.4 1094.5 2201.4 1163.5 2111.9 1195.9 2118.1 1187.3 2110 1100 2184.7 1115.9 2227.8 1205.7 2034 1180 2107.6 1170.8 2083.8 1148.6 2182.6 1177.6 2164.8 1153.9 2102 1104.9 2211.8 1128 2223.9 1181.1 2105.1 1183.7 2110.5 1157.4 2125.3 1195.8 2053.6 1094.7 2194.7 1111.2 2218.7 1145.6 2207.5 1137.7 2149.5 1180.2 2192.6 1129.3 2153.9 1202.7 2066.5 1221 2107.9 1178.6 2122.7 1168.3 2168.9 1122.7 2213.4 1138 2124.8 1172.7 2151.9 1094.8 2212.4 1161.4 2175.3 1177 2063.1 1136 2163.2 1137.6 2141.4 1154.9 2153.4 1104.3 2221.8 1110.1 2169.9 1154.7 2119.6 1184 2062.5 1122.3 2131.7 1166.9 2139.1 1141.4 2164.5 1159.9 2145.3 1173.1 2162.5 1095.7 2196.9 1117.7 2222 1195.4 2100.3 1121.7 2166.1 1157.9 2172.1 1162.9 2180.7 1107.5 2199.7 1161.8 2192.4 1135.5 2168.2 1136.5 2213.5 1123.4 2156.8 1155.1 2171.2 1135.4 2168.7 1184.2 2146.2 1170.7 2156.9 1117.5 2187.3 1148 2218.6 1086.8 2222.7 1141.3 2184.8 1089.9 2224.6 1150.8 2152.2 1131.6 2210.4 1155.7 2197.6 1125.1 2191.6 1119.9 2175.3 1177.4 2096.7 1171.4 2091.4 1163.1 2144.2 1143.3 2165.7 1153 2191.3 1189.9 2076.1 1127.1 2196.5 1102.4 2238.1 1138.7 2176.3 1128.7 2174.8 1145.5 2139 1194.7 2085.3 1119.9 2211 1117.4 2170.7 1195 2090.1 1140.7 2179 1112.9 2204.1 1162.5 2141.2 1093.3 2185 1127.8 2086.8 1095.1 2205.6 1130.8 2112.3 1120.3 2209.6 1093.4 2217.1 1153.5 2196.5 1095 2225.3 1150.6 2222.2 1182.7 2143.4 1193.3 2131.4 1125.4 2169.1 1181 2149.6 1128.9 2192.1 1157.3 2173.6 1158.8 2180.6 1096.8 2193 1145.4 2219.4 1139.1 2197.8 1155.4 2165.9 1174.2 2046.7 1117.8 2197.5 1143.7 2206.8 1128.8 2189.7 1123.1 2173 1186.2 2137.3 1109.4 2183.2 1195.5 1954.3 1137.3 2189.6 1114.3 2226.8 1158.8 2193.7" fill="none" stroke="none" marker-start="url(#m)" marker-mid="url(#m)" marker-end="url(#m)"/>
<path d="M1062 1847.98V2280.07M1060.93 2279H1462.47" stroke="#000" stroke-width="2.133" fill="none"/>
<path d="M1207 2279v9.33M1360 2279v9.33M1062 2267h-9.33M1062 2160h-9.33M1062 2053h-9.33M1062 1946h-9.33" stroke="#000" stroke-width="2.133" fill="none"/>
<text x="1206.96" y="2318.21" text-anchor="middle">2000</text>
<text x="1359.64" y="2318.21" text-anchor="middle">4000</text>
<text x="1261.50" y="2354.91" text-anchor="middle">First_Flr_SF</text>
</g>
<g>
<path d="M1631.2 2029.5 1657.1 1979.2 1564.6 2159.9 1796.2 1868.6 1590 2231.3 1608.6 2230.3 1605.1 2055.5 1668.4 2152.1 1587.9 2221.9 1700.5 2133 1561.5 2237.1 1658.3 2040.1 1680.6 2125 1682.9 1951.4 1593.5 2069.8 1751.3 2114.5 1693.3 2066.3 1710.7 2036.9 1629.7 2020.8 1714.2 1980.8 1614.1 2209.4 1651.2 2201.4 1529 2220 1634.1 2045 1546.7 2259.8 1538.6 2187.9 1660.9 1998.4 1539.9 2259.6 1543.7 2242.5 1741.1 2044.9 1700.5 2143.7 1670 2017.4 1645.8 2202.5 1672.4 1940.2 1600.8 2221.2 1573.8 2239.1 1542 2184.8 1678.8 2136.3 1728.9 2109 1629.3 2081.6 1688.1 2113.3 1567.9 2153.8 1584.2 2118.4 1568.4 2140.6 1628.7 2069.2 1529.5 2213.3 1536.5 2191.5 1680.3 2165.1 1547.9 2236.4 1640.3 2207.8 1566.5 2156.4 1669.9 2159.7 1662.5 2050 1531.1 2238.7 1631.9 1973.8 1641.2 2085 1677 2112.8 1700.7 2105.3 1633.9 2201.5 1661.7 2064.5 1543.8 2238.4 1613.9 2058.4 1670 2095.2 1650.6 2197.1 1654.8 2189.6 1738.1 1932.7 1623.7 2211.1 1599.5 2071.2 1632.6 2057.4 1664.4 2150.3 1572.5 2152.9 1661.2 2129.5 1593.7 2105.8 1534.2 2209.4 1610.9 2081.1 1537 2193.1 1678.2 2061.8 1699.8 2063.6 1679.6 2122.9 1573.1 2145.2 1615.1 2075.3 1569.6 2159.6 1536.5 2243.2 1657.5 2153.2 1679.6 2087.6 1611.5 2043.4 1624.4 2017.5 1601.5 2087.2 1576.5 2137.4 1664.2 2118.3 1658.4 2054.6 1642.3 2201.6 1720.7 1979.7 1519.5 2237.4 1615.2 2077.8 1581.7 2237.8 1557.1 2169.3 1653.5 2044.2 1639 2173.3 1654.2 1970.1 1622.2 2065.8 1675.4 2073.8 1660.9 2087.6 1651.6 1939.8 1627.3 2041 1535.6 2233.8 1702 2129.8 1581.1 2129.7 1646.8 2041.8 1876 2181.1 1664.5 2181.1 1713.2 2015.5 1528.8 2223.2 1660.8 2098.9 1512.6 2245.6 1668.6 2157.2 1666.5 2079.5 1597.5 2095.5 1628 2086.4 1610.1 2089.2 1666.8 2109.6 1671.8 1937.5 1607.3 2208.8 1642.1 2097.2 1539.6 2194.6 1632.7 2086.1 1614.5 2082 1538 2201.8 1622 2099.3 1710.2 2060.3 1637.7 2171.7 1604.9 2211.3 1640.9 2168.4 1598 2109.1 1590.4 2083.5 1598.5 2109.8 1652.9 2154.7 1633.7 2073.1 1598.6 2216.5 1545.9 2192.9 1623.2 2061.1 1615.8 2113.9 1660.5 2166 1661.4 2082.7 1626.3 2102.4 1623.8 2161.9 1546.6 2195.1 1666 2140.8 1639.5 2124.3 1736.8 2012.8 1620.1 2047.7 1573.3 2142 1595.1 2114.4 1558.6 2234.8 1617.4 2178.1 1601.5 2206.7 1597.5 2114.8 1567.3 2163.4 1625.9 2121.7 1582.8 2136.6 1564.5 2235.8 1608 2185.4 1662.8 2072.5 1621.3 2173.5 1670.2 2130.2 1838.6 2168.4 1582.7 2111.4 1634.5 2174.5 1634.8 2155.3 1630.7 2095 1659 2092.8 1630.7 2115.5 1545.8 2183.7 1551.7 2233.1 1549.3 2193.3 1674.6 2131.6 1530 2224.1 1578.4 2223 1623.3 2156.9 1628.6 2142.6 1617.6 2128 1536.1 2211.9 1618.6 2151.9 1660.3 2141.6 1636.4 2134.3 1650.3 2168 1650.1 2096 1560.3 2174.1 1540 2216.8 1585.9 2221.5 1649.6 2129 1578.9 2205 1602.9 2202.1 1661.5 2108.3 1596.4 2126.9 1616.5 2200.9 1601.2 2114.9 1571.6 2210 1630.3 2116.6 1641.2 2140.1 1573.9 2164.9 1560.4 2228.9 1533.8 2225.2 1567.7 2171.6 1543.4 2202.7 1623.7 2191.3 1632 2173.3 1606.2 2172.7 1613.2 2111.9 1649.4 2118.1 1609 2110 1545 2227.8 1625.6 2034 1602.5 2107.6 1594.3 2083.8 1561 2175.5 1590.3 2207.2 1639.4 2148 1552.6 2192.5 1645.5 2165 1540.8 2213.6 1651.2 2102 1612.8 2153.3 1555.8 2223.9 1603.5 2105.1 1602.3 2195.7 1617.9 2190.6 1565.2 2225.4 1605.8 2110.5 1637.5 2187.6 1582.2 2125.3 1664.9 2053.6 1581 2198.1 1545.2 2178.3 1593.9 2209.3 1629.2 2187.1 1528.4 2227 1540.7 2218.7 1624.3 2172.1 1613.9 2198.4 1616.6 2197.5 1571.6 2207.5 1573.5 2167.6 1655.6 2161.5 1636.8 2192.6 1598.1 2193.9 1622.8 2066.5 1639.3 2107.9 1601.2 2122.7 1602.6 2186 1611.3 2124.8 1571.1 2212.4 1642.7 2063.1 1619.9 2163.2 1649.4 2141.4 1580 2153.4 1595.1 2221.8 1658.5 2119.6 1606.1 2062.5 1624.7 2131.7 1590.7 2139.1 1621.3 2164.5 1620.2 2145.3 1546.6 2222 1616.3 2100.3 1632.3 2190.3 1605.8 2166.1 1613.7 2172.1 1586.2 2192.4 1602.6 2168.2 1600 2156.8 1615.2 2171.2 1600.9 2168.7 1606.3 2146.2 1594.2 2156.9 1595.6 2187.3 1573.8 2218.6 1554.8 2222.7 1596.8 2184.8 1559.9 2224.6 1576.3 2152.2 1559 2210.4 1580.6 2197.6 1553.2 2191.6 1596.2 2175.3 1600.2 2096.7 1594.8 2091.4 1587.3 2144.2 1564.2 2178.3 1648.2 2165.7 1653.5 2076.1 1555 2196.5 1532.9 2238.1 1661.4 2176.3 1556.4 2174.8 1612.8 2139 1615.6 2085.3 1548.6 2211 1588.7 2170.7 1650.2 2090.1 1567.2 2179 1542.3 2204.1 1586.8 2141.2 1574.7 2185 1641.5 2086.8 1646.5 2112.3 1548.9 2209.6 1571.9 2217.1 1578.7 2196.5 1572 2225.3 1576.1 2222.2 1649.6 2143.4 1614.4 2131.4 1583.5 2169.1 1603.4 2149.6 1556.6 2192.1 1582.1 2173.6 1583.4 2180.6 1560.5 2193 1571.4 2219.4 1565.8 2197.8 1580.4 2165.9 1631.7 2046.7 1580.5 2197.5 1569.9 2206.8 1556.5 2189.7 1597.7 2173 1608.1 2137.3 1578.6 2183.2 1728.3 1954.3 1564.2 2189.6 1543.5 2226.8 1583.5 2193.7" fill="none" stroke="none" marker-start="url(#m)" marker-mid="url(#m)" marker-end="url(#m)"/>
<path d="M1494 1847.98V2280.07M1492.93 2279H1895.27" stroke="#000" stroke-width="2.133" fill="none"/>
<path d="M1627 2279v9.33M1764 2279v9.33M1494 2267h-9.33M1494 2160h-9.33M1494 2053h-9.33M1494 1946h-9.33" stroke="#000" stroke-width="2.133" fill="none"/>
<text x="1626.65" y="2318.21" text-anchor="middle">2000</text>
<text x="1763.59" y="2318.21" text-anchor="middle">4000</text>
<text x="1694.30" y="2354.91" text-anchor="middle">Gr_Liv_Area</text>
</g>
<g>
<g fill="#1f77b4" fill-opacity="0.75" stroke="#000" stroke-width="0.638"><rect x="1945.37" y="2278.11" width="6.38" height="1.20"/><rect x="1958.13" y="2276.71" width="6.38" height="2.60"/><rect x="1964.50" y="2261.81" width="6.38" height="17.50"/><rect x="1970.88" y="2258.81" width="6.38" height="20.50"/><rect x="1977.25" y="2213.71" width="6.38" height="65.60"/><rect x="1983.63" y="2219.71" width="6.38" height="59.60"/><rect x="1990.01" y="2159.71" width="6.38" height="119.60"/><rect x="1996.38" y="2116.81" width="6.38" height="162.50"/><rect x="2002.76" y="2063.51" width="6.38" height="215.80"/><rect x="2009.14" y="2106.91" width="6.38" height="172.40"/><rect x="2015.51" y="2134.81" width="6.38" height="144.50"/><rect x="2021.89" y="2142.71" width="6.38" height="136.60"/><rect x="2028.27" y="2144.81" width="6.38" height="134.50"/><rect x="2034.64" y="2202.81" width="6.38" height="76.50"/><rect x="2041.02" y="2192.81" width="6.38" height="86.50"/><rect x="2047.40" y="2220.81" width="6.38" height="58.50"/><rect x="2053.77" y="2228.91" width="6.38" height="50.40"/><rect x="2060.15" y="2238.91" width="6.38" height="40.40"/><rect x="2066.52" y="2246.91" width="6.38" height="32.40"/><rect x="2072.90" y="2246.91" width="6.38" height="32.40"/><rect x="2079.28" y="2251.81" width="6.38" height="27.50"/><rect x="2085.65" y="2261.81" width="6.38" height="17.50"/><rect x="2092.03" y="2254.71" width="6.38" height="24.60"/><rect x="2098.41" y="2266.81" width="6.38" height="12.50"/><rect x="2104.78" y="2262.81" width="6.38" height="16.50"/><rect x="2111.16" y="2272.71" width="6.38" height="6.60"/><rect x="2117.54" y="2270.91" width="6.38" height="8.40"/><rect x="2123.91" y="2268.71" width="6.38" height="10.60"/><rect x="2130.29" y="2272.71" width="6.38" height="6.60"/><rect x="2136.66" y="2274.61" width="6.38" height="4.70"/><rect x="2143.04" y="2271.71" width="6.38" height="7.60"/><rect x="2149.42" y="2276.71" width="6.38" height="2.60"/><rect x="2155.79" y="2276.71" width="6.38" height="2.60"/><rect x="2162.17" y="2275.81" width="6.38" height="3.50"/><rect x="2168.55" y="2276.31" width="6.38" height="3.00"/><rect x="2174.92" y="2278.51" width="6.38" height="0.80"/><rect x="2200.43" y="2278.51" width="6.38" height="0.80"/><rect x="2206.80" y="2278.51" width="6.38" height="0.80"/><rect x="2213.18" y="2278.51" width="6.38" height="0.80"/><rect x="2225.93" y="2277.71" width="6.38" height="1.60"/><rect x="2232.31" y="2278.51" width="6.38" height="0.80"/><rect x="2238.69" y="2277.71" width="6.38" height="1.60"/><rect x="2245.06" y="2278.51" width="6.38" height="0.80"/><rect x="2302.45" y="2278.51" width="6.38" height="0.80"/></g>
<path d="M1927 1847.98V2280.07M1925.93 2279H2328.07" stroke="#000" stroke-width="2.133" fill="none"/>
<path d="M1939 2279v9.33M2063 2279v9.33M2187 2279v9.33M2311 2279v9.33M1927 2267h-9.33M1927 2160h-9.33M1927 2053h-9.33M1927 1946h-9.33" stroke="#000" stroke-width="2.133" fill="none"/>
<text x="1939.02" y="2318.21" text-anchor="middle">0</text>
<text x="2063.12" y="2318.21" text-anchor="middle">250000</text>
<text x="2187.21" y="2318.21" text-anchor="middle">500000</text>
<text x="2311.31" y="2318.21" text-anchor="middle">750000</text>
<text x="2127.10" y="2354.91" text-anchor="middle">Sale_Price</text>
</g>
</svg></body></html>
